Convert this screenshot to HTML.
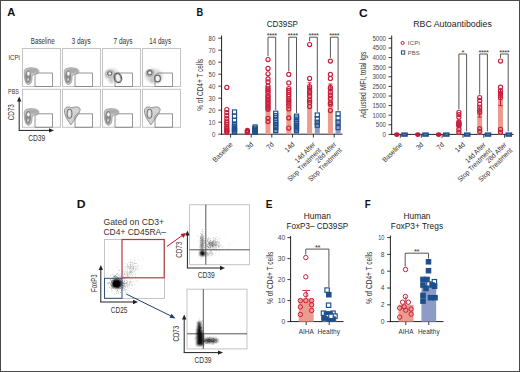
<!DOCTYPE html>
<html><head><meta charset="utf-8"><style>
html,body{margin:0;padding:0;background:#fff;overflow:hidden;}
svg{display:block;font-family:"Liberation Sans", sans-serif;}
</style></head><body>
<svg width="520" height="372" viewBox="0 0 520 372">
<defs>
<filter id="b1" x="-50%" y="-50%" width="200%" height="200%"><feGaussianBlur stdDeviation="1"/></filter>
<filter id="b08" x="-50%" y="-50%" width="200%" height="200%"><feGaussianBlur stdDeviation="0.8"/></filter>
<filter id="b05" x="-50%" y="-50%" width="200%" height="200%"><feGaussianBlur stdDeviation="0.5"/></filter>
</defs>
<rect x="0" y="0" width="520" height="372" fill="#fff"/>
<rect x="0.5" y="0.5" width="519" height="371" fill="none" stroke="#4a4a4a" stroke-width="1"/>
<text x="7.2" y="16.4" font-size="11.2" text-anchor="start" font-weight="bold" fill="#111" textLength="8.0" lengthAdjust="spacingAndGlyphs">A</text>
<text x="30.8" y="44.3" font-size="8.3" text-anchor="start" font-weight="normal" fill="#333" textLength="23.8" lengthAdjust="spacingAndGlyphs">Baseline</text>
<text x="71.5" y="44.3" font-size="8.3" text-anchor="start" font-weight="normal" fill="#333" textLength="19.3" lengthAdjust="spacingAndGlyphs">3 days</text>
<text x="113.5" y="44.3" font-size="8.3" text-anchor="start" font-weight="normal" fill="#333" textLength="19.1" lengthAdjust="spacingAndGlyphs">7 days</text>
<text x="149.2" y="44.3" font-size="8.3" text-anchor="start" font-weight="normal" fill="#333" textLength="21.9" lengthAdjust="spacingAndGlyphs">14 days</text>
<text x="8.4" y="60.1" font-size="7.8" text-anchor="start" font-weight="normal" fill="#333" textLength="11.5" lengthAdjust="spacingAndGlyphs">ICPi</text>
<text x="8.1" y="93.7" font-size="7.6" text-anchor="start" font-weight="normal" fill="#333" textLength="10.8" lengthAdjust="spacingAndGlyphs">PBS</text>
<rect x="22.5" y="48.5" width="38" height="38" stroke="#c4c4c4" stroke-width="1" fill="none"/>
<path d="M24.3,71.5 C24.3,68.3 28.5,67.7 32.5,67.9 C36.5,68.1 39.5,69.5 38.7,72.1 C37.5,74.1 34.0,73.7 32.1,76.0 C31.9,79.5 32.1,84.0 28.5,84.5 C25.5,84.5 24.3,79.5 24.3,71.5 Z" fill="#c2c2c2" stroke="#a0a0a0" stroke-width="0.9" filter="url(#b05)"/><ellipse cx="33.0" cy="70.8" rx="4.8" ry="2" fill="#ababab" filter="url(#b05)"/><ellipse cx="28.1" cy="76.5" rx="2.9" ry="6.6" fill="#8a8a8a" filter="url(#b05)"/><ellipse cx="28.4" cy="73.7" rx="1.3" ry="2.1" fill="#fafafa" filter="url(#b05)"/><ellipse cx="28.1" cy="79.5" rx="0.9" ry="1.8" fill="#d0d0d0" filter="url(#b05)"/>
<polygon points="35.0,86.5 35.0,75.5 37.5,73.0 52.5,73.0 52.5,86.5" fill="none" stroke="#7a7a7a" stroke-width="0.8"/>
<rect x="62.5" y="48.5" width="38" height="38" stroke="#c4c4c4" stroke-width="1" fill="none"/>
<path d="M64.3,71.5 C64.3,68.3 68.5,67.7 72.5,67.9 C76.5,68.1 79.5,69.5 78.7,72.1 C77.5,74.1 74.0,73.7 72.1,76.0 C71.9,79.5 72.1,84.0 68.5,84.5 C65.5,84.5 64.3,79.5 64.3,71.5 Z" fill="#c2c2c2" stroke="#a0a0a0" stroke-width="0.9" filter="url(#b05)"/><ellipse cx="73.0" cy="70.8" rx="4.8" ry="2" fill="#ababab" filter="url(#b05)"/><ellipse cx="68.1" cy="76.5" rx="2.9" ry="6.6" fill="#8a8a8a" filter="url(#b05)"/><ellipse cx="68.4" cy="73.7" rx="1.3" ry="2.1" fill="#fafafa" filter="url(#b05)"/><ellipse cx="68.1" cy="79.5" rx="0.9" ry="1.8" fill="#d0d0d0" filter="url(#b05)"/>
<polygon points="75.0,86.5 75.0,75.5 77.5,73.0 92.5,73.0 92.5,86.5" fill="none" stroke="#7a7a7a" stroke-width="0.8"/>
<rect x="102.5" y="48.5" width="38" height="38" stroke="#c4c4c4" stroke-width="1" fill="none"/>
<ellipse cx="111.5" cy="74.5" rx="8" ry="6.5" fill="#e2e2e2" filter="url(#b1)"/><ellipse cx="110.0" cy="74.0" rx="4.2" ry="3.8" fill="#cfcfcf" stroke="#a8a8a8" stroke-width="0.9" filter="url(#b05)"/><ellipse cx="109.8" cy="73.5" rx="2.1" ry="1.8" fill="#f4f4f4" stroke="#666" stroke-width="1.1" filter="url(#b05)"/><ellipse cx="111.5" cy="80.0" rx="2.2" ry="3.5" fill="#c8c8c8" filter="url(#b1)"/><ellipse cx="117.9" cy="77.9" rx="3.4" ry="4.6" fill="#eeeeee" stroke="#333" stroke-width="1.4" transform="rotate(-15 117.9 77.9)" filter="url(#b05)"/>
<polygon points="115.0,86.5 115.0,75.5 117.5,73.0 132.5,73.0 132.5,86.5" fill="none" stroke="#7a7a7a" stroke-width="0.8"/>
<rect x="142.5" y="48.5" width="38" height="38" stroke="#c4c4c4" stroke-width="1" fill="none"/>
<ellipse cx="153.5" cy="75.5" rx="9" ry="7" fill="#dcdcdc" filter="url(#b1)"/><ellipse cx="150.0" cy="73.0" rx="4" ry="3.6" fill="#c9c9c9" stroke="#a0a0a0" stroke-width="0.9" filter="url(#b05)"/><ellipse cx="152.5" cy="79.5" rx="2.2" ry="3.5" fill="#bdbdbd" filter="url(#b1)"/><ellipse cx="149.8" cy="72.7" rx="2.2" ry="2.1" fill="#f4f4f4" stroke="#6a6a6a" stroke-width="1.2" filter="url(#b05)"/><ellipse cx="157.5" cy="78.5" rx="4.4" ry="4.8" fill="#cfcfcf" filter="url(#b1)"/><ellipse cx="157.5" cy="78.5" rx="2.9" ry="3.4" fill="#f0f0f0" stroke="#6a6a6a" stroke-width="1.3" filter="url(#b05)"/>
<polygon points="155.0,86.5 155.0,75.5 157.5,73.0 172.5,73.0 172.5,86.5" fill="none" stroke="#7a7a7a" stroke-width="0.8"/>
<rect x="22.5" y="89.3" width="38" height="38" stroke="#c4c4c4" stroke-width="1" fill="none"/>
<path d="M24.3,112.3 C24.3,109.1 28.5,108.5 32.5,108.69999999999999 C36.5,108.9 39.5,110.3 38.7,112.9 C37.5,114.9 34.0,114.5 32.1,116.8 C31.9,120.3 32.1,124.8 28.5,125.3 C25.5,125.3 24.3,120.3 24.3,112.3 Z" fill="#c2c2c2" stroke="#a0a0a0" stroke-width="0.9" filter="url(#b05)"/><ellipse cx="33.0" cy="111.6" rx="4.8" ry="2" fill="#ababab" filter="url(#b05)"/><ellipse cx="28.1" cy="117.3" rx="2.9" ry="6.6" fill="#8a8a8a" filter="url(#b05)"/><ellipse cx="28.4" cy="114.5" rx="1.3" ry="2.1" fill="#fafafa" filter="url(#b05)"/><ellipse cx="28.1" cy="120.3" rx="0.9" ry="1.8" fill="#d0d0d0" filter="url(#b05)"/>
<polygon points="35.0,127.3 35.0,116.3 37.5,113.8 52.5,113.8 52.5,127.3" fill="none" stroke="#7a7a7a" stroke-width="0.8"/>
<rect x="62.5" y="89.3" width="38" height="38" stroke="#c4c4c4" stroke-width="1" fill="none"/>
<path d="M64.5,110.8 C64.5,106.8 68.5,106.3 72.0,107.8 C75.5,106.3 81.0,106.8 80.0,110.3 C79.0,114.3 74.5,119.3 71.0,124.8 C67.5,120.3 64.5,115.3 64.5,110.8 Z" fill="#d2d2d2" stroke="#8e8e8e" stroke-width="1" filter="url(#b05)"/><ellipse cx="69.5" cy="113.8" rx="2.4" ry="4.5" fill="none" stroke="#7a7a7a" stroke-width="1.1" filter="url(#b05)"/><ellipse cx="69.5" cy="113.3" rx="1.2" ry="3" fill="#ececec" filter="url(#b05)"/><ellipse cx="75.0" cy="110.3" rx="2.5" ry="1.6" fill="#d4d4d4" filter="url(#b05)"/>
<polygon points="75.0,127.3 75.0,116.3 77.5,113.8 92.5,113.8 92.5,127.3" fill="none" stroke="#7a7a7a" stroke-width="0.8"/>
<rect x="102.5" y="89.3" width="38" height="38" stroke="#c4c4c4" stroke-width="1" fill="none"/>
<path d="M104.3,112.3 C104.3,109.1 108.5,108.5 112.5,108.69999999999999 C116.5,108.9 119.5,110.3 118.7,112.9 C117.5,114.9 114.0,114.5 112.1,116.8 C111.9,120.3 112.1,124.8 108.5,125.3 C105.5,125.3 104.3,120.3 104.3,112.3 Z" fill="#c2c2c2" stroke="#a0a0a0" stroke-width="0.9" filter="url(#b05)"/><ellipse cx="113.0" cy="111.6" rx="4.8" ry="2" fill="#ababab" filter="url(#b05)"/><ellipse cx="108.1" cy="117.3" rx="2.9" ry="6.6" fill="#8a8a8a" filter="url(#b05)"/><ellipse cx="108.4" cy="114.5" rx="1.3" ry="2.1" fill="#fafafa" filter="url(#b05)"/><ellipse cx="108.1" cy="120.3" rx="0.9" ry="1.8" fill="#d0d0d0" filter="url(#b05)"/>
<polygon points="115.0,127.3 115.0,116.3 117.5,113.8 132.5,113.8 132.5,127.3" fill="none" stroke="#7a7a7a" stroke-width="0.8"/>
<rect x="142.5" y="89.3" width="38" height="38" stroke="#c4c4c4" stroke-width="1" fill="none"/>
<path d="M144.5,110.8 C144.5,106.8 148.5,106.3 152.0,107.8 C155.5,106.3 161.0,106.8 160.0,110.3 C159.0,114.3 154.5,119.3 151.0,124.8 C147.5,120.3 144.5,115.3 144.5,110.8 Z" fill="#d2d2d2" stroke="#8e8e8e" stroke-width="1" filter="url(#b05)"/><ellipse cx="149.5" cy="113.8" rx="2.4" ry="4.5" fill="none" stroke="#7a7a7a" stroke-width="1.1" filter="url(#b05)"/><ellipse cx="149.5" cy="113.3" rx="1.2" ry="3" fill="#ececec" filter="url(#b05)"/><ellipse cx="155.0" cy="110.3" rx="2.5" ry="1.6" fill="#d4d4d4" filter="url(#b05)"/>
<polygon points="155.0,127.3 155.0,116.3 157.5,113.8 172.5,113.8 172.5,127.3" fill="none" stroke="#7a7a7a" stroke-width="0.8"/>
<line x1="19.2" y1="130.4" x2="19.2" y2="100.5" stroke="#222" stroke-width="1"/>
<polygon points="19.2,96.5 17.0,101.5 21.4,101.5" fill="#222"/>
<line x1="18.7" y1="130.4" x2="50" y2="130.4" stroke="#222" stroke-width="1"/>
<polygon points="54,130.4 49,128.20000000000002 49,132.6" fill="#222"/>
<text x="14.1" y="120.3" font-size="8.8" text-anchor="start" font-weight="normal" fill="#333" textLength="16.1" lengthAdjust="spacingAndGlyphs" transform="rotate(-90 14.1 120.3)">CD73</text>
<text x="28.2" y="140.7" font-size="8.8" text-anchor="start" font-weight="normal" fill="#333" textLength="17.1" lengthAdjust="spacingAndGlyphs">CD39</text>
<text x="196.5" y="16.1" font-size="10.5" text-anchor="start" font-weight="bold" fill="#111" textLength="6.7" lengthAdjust="spacingAndGlyphs">B</text>
<text x="266.7" y="27" font-size="9" text-anchor="start" font-weight="normal" fill="#222" textLength="31.3" lengthAdjust="spacingAndGlyphs">CD39SP</text>
<line x1="221.6" y1="35.5" x2="221.6" y2="134.7" stroke="#222" stroke-width="1"/>
<line x1="218.4" y1="134.2" x2="221.6" y2="134.2" stroke="#222" stroke-width="0.9"/>
<text x="215.4" y="136.5" font-size="6.6" text-anchor="end" font-weight="normal" fill="#444" textLength="3.39" lengthAdjust="spacingAndGlyphs">0</text>
<line x1="218.4" y1="122.19999999999999" x2="221.6" y2="122.19999999999999" stroke="#222" stroke-width="0.9"/>
<text x="215.4" y="124.49999999999999" font-size="6.6" text-anchor="end" font-weight="normal" fill="#444" textLength="6.78" lengthAdjust="spacingAndGlyphs">10</text>
<line x1="218.4" y1="110.19999999999999" x2="221.6" y2="110.19999999999999" stroke="#222" stroke-width="0.9"/>
<text x="215.4" y="112.49999999999999" font-size="6.6" text-anchor="end" font-weight="normal" fill="#444" textLength="6.78" lengthAdjust="spacingAndGlyphs">20</text>
<line x1="218.4" y1="98.19999999999999" x2="221.6" y2="98.19999999999999" stroke="#222" stroke-width="0.9"/>
<text x="215.4" y="100.49999999999999" font-size="6.6" text-anchor="end" font-weight="normal" fill="#444" textLength="6.78" lengthAdjust="spacingAndGlyphs">30</text>
<line x1="218.4" y1="86.19999999999999" x2="221.6" y2="86.19999999999999" stroke="#222" stroke-width="0.9"/>
<text x="215.4" y="88.49999999999999" font-size="6.6" text-anchor="end" font-weight="normal" fill="#444" textLength="6.78" lengthAdjust="spacingAndGlyphs">40</text>
<line x1="218.4" y1="74.19999999999999" x2="221.6" y2="74.19999999999999" stroke="#222" stroke-width="0.9"/>
<text x="215.4" y="76.49999999999999" font-size="6.6" text-anchor="end" font-weight="normal" fill="#444" textLength="6.78" lengthAdjust="spacingAndGlyphs">50</text>
<line x1="218.4" y1="62.19999999999999" x2="221.6" y2="62.19999999999999" stroke="#222" stroke-width="0.9"/>
<text x="215.4" y="64.49999999999999" font-size="6.6" text-anchor="end" font-weight="normal" fill="#444" textLength="6.78" lengthAdjust="spacingAndGlyphs">60</text>
<line x1="218.4" y1="50.19999999999999" x2="221.6" y2="50.19999999999999" stroke="#222" stroke-width="0.9"/>
<text x="215.4" y="52.499999999999986" font-size="6.6" text-anchor="end" font-weight="normal" fill="#444" textLength="6.78" lengthAdjust="spacingAndGlyphs">70</text>
<line x1="218.4" y1="38.19999999999999" x2="221.6" y2="38.19999999999999" stroke="#222" stroke-width="0.9"/>
<text x="215.4" y="40.499999999999986" font-size="6.6" text-anchor="end" font-weight="normal" fill="#444" textLength="6.78" lengthAdjust="spacingAndGlyphs">80</text>
<line x1="221.1" y1="134.2" x2="342.5" y2="134.2" stroke="#222" stroke-width="1"/>
<text x="203" y="110.8" font-size="8.4" text-anchor="start" font-weight="normal" fill="#333" textLength="51.9" lengthAdjust="spacingAndGlyphs" transform="rotate(-90 203 110.8)">% of CD4+ T cells</text>
<line x1="230.6" y1="134.2" x2="230.6" y2="137.6" stroke="#222" stroke-width="0.9"/>
<line x1="251.2" y1="134.2" x2="251.2" y2="137.6" stroke="#222" stroke-width="0.9"/>
<line x1="271.8" y1="134.2" x2="271.8" y2="137.6" stroke="#222" stroke-width="0.9"/>
<line x1="292.6" y1="134.2" x2="292.6" y2="137.6" stroke="#222" stroke-width="0.9"/>
<line x1="313.4" y1="134.2" x2="313.4" y2="137.6" stroke="#222" stroke-width="0.9"/>
<line x1="334.2" y1="134.2" x2="334.2" y2="137.6" stroke="#222" stroke-width="0.9"/>
<rect x="224.29999999999998" y="125.79999999999998" width="5" height="8.400000000000006" fill="#ec9c8e"/>
<rect x="232.0" y="122.79999999999998" width="5" height="11.400000000000006" fill="#8d9cc6"/>
<rect x="244.89999999999998" y="131.2" width="5" height="3.0" fill="#ec9c8e"/>
<rect x="252.6" y="129.39999999999998" width="5" height="4.800000000000011" fill="#8d9cc6"/>
<rect x="265.5" y="94.6" width="5" height="39.599999999999994" fill="#ec9c8e"/>
<rect x="273.2" y="121.6" width="5" height="12.599999999999994" fill="#8d9cc6"/>
<rect x="286.3" y="98.19999999999999" width="5" height="36.0" fill="#ec9c8e"/>
<rect x="294.0" y="122.79999999999998" width="5" height="11.400000000000006" fill="#8d9cc6"/>
<rect x="307.09999999999997" y="90.39999999999999" width="5" height="43.8" fill="#ec9c8e"/>
<rect x="314.79999999999995" y="120.99999999999999" width="5" height="13.200000000000003" fill="#8d9cc6"/>
<line x1="309.59999999999997" y1="90.39999999999999" x2="309.59999999999997" y2="82.84" stroke="#c81e3c" stroke-width="1"/>
<line x1="307.59999999999997" y1="82.84" x2="311.59999999999997" y2="82.84" stroke="#c81e3c" stroke-width="1"/>
<rect x="327.9" y="91.6" width="5" height="42.599999999999994" fill="#ec9c8e"/>
<rect x="335.59999999999997" y="120.39999999999999" width="5" height="13.799999999999997" fill="#8d9cc6"/>
<line x1="330.4" y1="91.6" x2="330.4" y2="84.03999999999999" stroke="#c81e3c" stroke-width="1"/>
<line x1="328.4" y1="84.03999999999999" x2="332.4" y2="84.03999999999999" stroke="#c81e3c" stroke-width="1"/>
<circle cx="226.80" cy="87.40" r="2.05" stroke="#c81e3c" stroke-width="1.15" fill="#fff" fill-opacity="0.0"/>
<circle cx="226.80" cy="109.60" r="2.05" stroke="#c81e3c" stroke-width="1.15" fill="#fff" fill-opacity="0.0"/>
<circle cx="226.80" cy="112.60" r="2.05" stroke="#c81e3c" stroke-width="1.15" fill="#fff" fill-opacity="0.0"/>
<circle cx="226.80" cy="115.60" r="2.05" stroke="#c81e3c" stroke-width="1.15" fill="#fff" fill-opacity="0.0"/>
<circle cx="226.80" cy="118.60" r="2.05" stroke="#c81e3c" stroke-width="1.15" fill="#fff" fill-opacity="0.0"/>
<circle cx="226.80" cy="121.00" r="2.05" stroke="#c81e3c" stroke-width="1.15" fill="#fff" fill-opacity="0.0"/>
<circle cx="226.80" cy="122.80" r="2.05" stroke="#c81e3c" stroke-width="1.15" fill="#fff" fill-opacity="0.0"/>
<circle cx="226.80" cy="124.60" r="2.05" stroke="#c81e3c" stroke-width="1.15" fill="#fff" fill-opacity="0.0"/>
<circle cx="226.80" cy="127.00" r="2.05" stroke="#c81e3c" stroke-width="1.15" fill="#fff" fill-opacity="0.0"/>
<circle cx="226.80" cy="128.80" r="2.05" stroke="#c81e3c" stroke-width="1.15" fill="#fff" fill-opacity="0.0"/>
<circle cx="226.80" cy="130.00" r="2.05" stroke="#c81e3c" stroke-width="1.15" fill="#fff" fill-opacity="0.0"/>
<circle cx="226.80" cy="131.20" r="2.05" stroke="#c81e3c" stroke-width="1.15" fill="#fff" fill-opacity="0.0"/>
<circle cx="226.80" cy="132.04" r="2.05" stroke="#c81e3c" stroke-width="1.15" fill="#fff" fill-opacity="0.0"/>
<rect x="232.45" y="109.95" width="4.1" height="4.1" stroke="#1e4f8c" stroke-width="1.15" fill="#fff" fill-opacity="0.0"/>
<rect x="232.45" y="114.15" width="4.1" height="4.1" stroke="#1e4f8c" stroke-width="1.15" fill="#fff" fill-opacity="0.0"/>
<rect x="232.45" y="118.35" width="4.1" height="4.1" stroke="#1e4f8c" stroke-width="1.15" fill="#fff" fill-opacity="0.0"/>
<rect x="232.45" y="121.95" width="4.1" height="4.1" stroke="#1e4f8c" stroke-width="1.15" fill="#fff" fill-opacity="0.0"/>
<rect x="232.45" y="124.35" width="4.1" height="4.1" stroke="#1e4f8c" stroke-width="1.15" fill="#fff" fill-opacity="0.0"/>
<rect x="232.45" y="126.15" width="4.1" height="4.1" stroke="#1e4f8c" stroke-width="1.15" fill="#fff" fill-opacity="0.0"/>
<rect x="232.45" y="127.59" width="4.1" height="4.1" stroke="#1e4f8c" stroke-width="1.15" fill="#fff" fill-opacity="0.0"/>
<rect x="232.45" y="129.03" width="4.1" height="4.1" stroke="#1e4f8c" stroke-width="1.15" fill="#fff" fill-opacity="0.0"/>
<rect x="232.45" y="129.99" width="4.1" height="4.1" stroke="#1e4f8c" stroke-width="1.15" fill="#fff" fill-opacity="0.0"/>
<circle cx="247.40" cy="130.36" r="2.05" stroke="#c81e3c" stroke-width="1.15" fill="#fff" fill-opacity="0.0"/>
<circle cx="247.40" cy="131.20" r="2.05" stroke="#c81e3c" stroke-width="1.15" fill="#fff" fill-opacity="0.0"/>
<circle cx="247.40" cy="131.92" r="2.05" stroke="#c81e3c" stroke-width="1.15" fill="#fff" fill-opacity="0.0"/>
<circle cx="247.40" cy="132.40" r="2.05" stroke="#c81e3c" stroke-width="1.15" fill="#fff" fill-opacity="0.0"/>
<rect x="253.05" y="124.95" width="4.1" height="4.1" stroke="#1e4f8c" stroke-width="1.15" fill="#fff" fill-opacity="0.0"/>
<rect x="253.05" y="126.15" width="4.1" height="4.1" stroke="#1e4f8c" stroke-width="1.15" fill="#fff" fill-opacity="0.0"/>
<rect x="253.05" y="127.35" width="4.1" height="4.1" stroke="#1e4f8c" stroke-width="1.15" fill="#fff" fill-opacity="0.0"/>
<rect x="253.05" y="128.55" width="4.1" height="4.1" stroke="#1e4f8c" stroke-width="1.15" fill="#fff" fill-opacity="0.0"/>
<rect x="253.05" y="129.51" width="4.1" height="4.1" stroke="#1e4f8c" stroke-width="1.15" fill="#fff" fill-opacity="0.0"/>
<rect x="253.05" y="130.23" width="4.1" height="4.1" stroke="#1e4f8c" stroke-width="1.15" fill="#fff" fill-opacity="0.0"/>
<circle cx="268.00" cy="59.50" r="2.05" stroke="#c81e3c" stroke-width="1.15" fill="#fff" fill-opacity="0.0"/>
<circle cx="268.00" cy="68.44" r="2.05" stroke="#c81e3c" stroke-width="1.15" fill="#fff" fill-opacity="0.0"/>
<circle cx="268.00" cy="73.84" r="2.05" stroke="#c81e3c" stroke-width="1.15" fill="#fff" fill-opacity="0.0"/>
<circle cx="268.00" cy="78.88" r="2.05" stroke="#c81e3c" stroke-width="1.15" fill="#fff" fill-opacity="0.0"/>
<circle cx="268.00" cy="81.88" r="2.05" stroke="#c81e3c" stroke-width="1.15" fill="#fff" fill-opacity="0.0"/>
<circle cx="268.00" cy="86.20" r="2.05" stroke="#c81e3c" stroke-width="1.15" fill="#fff" fill-opacity="0.0"/>
<circle cx="268.00" cy="88.30" r="2.05" stroke="#c81e3c" stroke-width="1.15" fill="#fff" fill-opacity="0.0"/>
<circle cx="268.00" cy="91.30" r="2.05" stroke="#c81e3c" stroke-width="1.15" fill="#fff" fill-opacity="0.0"/>
<circle cx="268.00" cy="93.16" r="2.05" stroke="#c81e3c" stroke-width="1.15" fill="#fff" fill-opacity="0.0"/>
<circle cx="268.00" cy="95.80" r="2.05" stroke="#c81e3c" stroke-width="1.15" fill="#fff" fill-opacity="0.0"/>
<circle cx="268.00" cy="99.04" r="2.05" stroke="#c81e3c" stroke-width="1.15" fill="#fff" fill-opacity="0.0"/>
<circle cx="268.00" cy="102.28" r="2.05" stroke="#c81e3c" stroke-width="1.15" fill="#fff" fill-opacity="0.0"/>
<circle cx="268.00" cy="106.12" r="2.05" stroke="#c81e3c" stroke-width="1.15" fill="#fff" fill-opacity="0.0"/>
<circle cx="268.00" cy="109.36" r="2.05" stroke="#c81e3c" stroke-width="1.15" fill="#fff" fill-opacity="0.0"/>
<circle cx="268.00" cy="118.36" r="2.05" stroke="#c81e3c" stroke-width="1.15" fill="#fff" fill-opacity="0.0"/>
<circle cx="268.00" cy="121.60" r="2.05" stroke="#c81e3c" stroke-width="1.15" fill="#fff" fill-opacity="0.0"/>
<circle cx="268.00" cy="89.80" r="2.05" stroke="#c81e3c" stroke-width="1.15" fill="#fff" fill-opacity="0.0"/>
<circle cx="268.00" cy="97.00" r="2.05" stroke="#c81e3c" stroke-width="1.15" fill="#fff" fill-opacity="0.0"/>
<circle cx="268.00" cy="100.60" r="2.05" stroke="#c81e3c" stroke-width="1.15" fill="#fff" fill-opacity="0.0"/>
<circle cx="268.00" cy="104.20" r="2.05" stroke="#c81e3c" stroke-width="1.15" fill="#fff" fill-opacity="0.0"/>
<circle cx="268.00" cy="107.80" r="2.05" stroke="#c81e3c" stroke-width="1.15" fill="#fff" fill-opacity="0.0"/>
<rect x="273.65" y="111.15" width="4.1" height="4.1" stroke="#1e4f8c" stroke-width="1.15" fill="#fff" fill-opacity="0.0"/>
<rect x="273.65" y="113.55" width="4.1" height="4.1" stroke="#1e4f8c" stroke-width="1.15" fill="#fff" fill-opacity="0.0"/>
<rect x="273.65" y="115.95" width="4.1" height="4.1" stroke="#1e4f8c" stroke-width="1.15" fill="#fff" fill-opacity="0.0"/>
<rect x="273.65" y="118.35" width="4.1" height="4.1" stroke="#1e4f8c" stroke-width="1.15" fill="#fff" fill-opacity="0.0"/>
<rect x="273.65" y="120.75" width="4.1" height="4.1" stroke="#1e4f8c" stroke-width="1.15" fill="#fff" fill-opacity="0.0"/>
<rect x="273.65" y="123.15" width="4.1" height="4.1" stroke="#1e4f8c" stroke-width="1.15" fill="#fff" fill-opacity="0.0"/>
<rect x="273.65" y="125.55" width="4.1" height="4.1" stroke="#1e4f8c" stroke-width="1.15" fill="#fff" fill-opacity="0.0"/>
<rect x="273.65" y="128.55" width="4.1" height="4.1" stroke="#1e4f8c" stroke-width="1.15" fill="#fff" fill-opacity="0.0"/>
<circle cx="288.80" cy="74.44" r="2.05" stroke="#c81e3c" stroke-width="1.15" fill="#fff" fill-opacity="0.0"/>
<circle cx="288.80" cy="82.96" r="2.05" stroke="#c81e3c" stroke-width="1.15" fill="#fff" fill-opacity="0.0"/>
<circle cx="288.80" cy="88.60" r="2.05" stroke="#c81e3c" stroke-width="1.15" fill="#fff" fill-opacity="0.0"/>
<circle cx="288.80" cy="90.40" r="2.05" stroke="#c81e3c" stroke-width="1.15" fill="#fff" fill-opacity="0.0"/>
<circle cx="288.80" cy="92.20" r="2.05" stroke="#c81e3c" stroke-width="1.15" fill="#fff" fill-opacity="0.0"/>
<circle cx="288.80" cy="94.60" r="2.05" stroke="#c81e3c" stroke-width="1.15" fill="#fff" fill-opacity="0.0"/>
<circle cx="288.80" cy="96.16" r="2.05" stroke="#c81e3c" stroke-width="1.15" fill="#fff" fill-opacity="0.0"/>
<circle cx="288.80" cy="98.80" r="2.05" stroke="#c81e3c" stroke-width="1.15" fill="#fff" fill-opacity="0.0"/>
<circle cx="288.80" cy="100.96" r="2.05" stroke="#c81e3c" stroke-width="1.15" fill="#fff" fill-opacity="0.0"/>
<circle cx="288.80" cy="103.36" r="2.05" stroke="#c81e3c" stroke-width="1.15" fill="#fff" fill-opacity="0.0"/>
<circle cx="288.80" cy="105.76" r="2.05" stroke="#c81e3c" stroke-width="1.15" fill="#fff" fill-opacity="0.0"/>
<circle cx="288.80" cy="109.00" r="2.05" stroke="#c81e3c" stroke-width="1.15" fill="#fff" fill-opacity="0.0"/>
<circle cx="288.80" cy="117.88" r="2.05" stroke="#c81e3c" stroke-width="1.15" fill="#fff" fill-opacity="0.0"/>
<circle cx="288.80" cy="128.08" r="2.05" stroke="#c81e3c" stroke-width="1.15" fill="#fff" fill-opacity="0.0"/>
<rect x="294.45" y="114.15" width="4.1" height="4.1" stroke="#1e4f8c" stroke-width="1.15" fill="#fff" fill-opacity="0.0"/>
<rect x="294.45" y="115.95" width="4.1" height="4.1" stroke="#1e4f8c" stroke-width="1.15" fill="#fff" fill-opacity="0.0"/>
<rect x="294.45" y="117.75" width="4.1" height="4.1" stroke="#1e4f8c" stroke-width="1.15" fill="#fff" fill-opacity="0.0"/>
<rect x="294.45" y="119.55" width="4.1" height="4.1" stroke="#1e4f8c" stroke-width="1.15" fill="#fff" fill-opacity="0.0"/>
<rect x="294.45" y="121.35" width="4.1" height="4.1" stroke="#1e4f8c" stroke-width="1.15" fill="#fff" fill-opacity="0.0"/>
<rect x="294.45" y="123.15" width="4.1" height="4.1" stroke="#1e4f8c" stroke-width="1.15" fill="#fff" fill-opacity="0.0"/>
<rect x="294.45" y="124.95" width="4.1" height="4.1" stroke="#1e4f8c" stroke-width="1.15" fill="#fff" fill-opacity="0.0"/>
<rect x="294.45" y="126.75" width="4.1" height="4.1" stroke="#1e4f8c" stroke-width="1.15" fill="#fff" fill-opacity="0.0"/>
<rect x="294.45" y="128.55" width="4.1" height="4.1" stroke="#1e4f8c" stroke-width="1.15" fill="#fff" fill-opacity="0.0"/>
<circle cx="309.60" cy="44.56" r="2.05" stroke="#c81e3c" stroke-width="1.15" fill="#fff" fill-opacity="0.0"/>
<circle cx="309.60" cy="78.40" r="2.05" stroke="#c81e3c" stroke-width="1.15" fill="#fff" fill-opacity="0.0"/>
<circle cx="309.60" cy="86.56" r="2.05" stroke="#c81e3c" stroke-width="1.15" fill="#fff" fill-opacity="0.0"/>
<circle cx="309.60" cy="88.00" r="2.05" stroke="#c81e3c" stroke-width="1.15" fill="#fff" fill-opacity="0.0"/>
<circle cx="309.60" cy="91.24" r="2.05" stroke="#c81e3c" stroke-width="1.15" fill="#fff" fill-opacity="0.0"/>
<circle cx="309.60" cy="92.92" r="2.05" stroke="#c81e3c" stroke-width="1.15" fill="#fff" fill-opacity="0.0"/>
<circle cx="309.60" cy="96.16" r="2.05" stroke="#c81e3c" stroke-width="1.15" fill="#fff" fill-opacity="0.0"/>
<circle cx="309.60" cy="100.24" r="2.05" stroke="#c81e3c" stroke-width="1.15" fill="#fff" fill-opacity="0.0"/>
<circle cx="309.60" cy="102.64" r="2.05" stroke="#c81e3c" stroke-width="1.15" fill="#fff" fill-opacity="0.0"/>
<circle cx="309.60" cy="106.60" r="2.05" stroke="#c81e3c" stroke-width="1.15" fill="#fff" fill-opacity="0.0"/>
<rect x="315.25" y="112.95" width="4.1" height="4.1" stroke="#1e4f8c" stroke-width="1.15" fill="#fff" fill-opacity="0.0"/>
<rect x="315.25" y="116.79" width="4.1" height="4.1" stroke="#1e4f8c" stroke-width="1.15" fill="#fff" fill-opacity="0.0"/>
<rect x="315.25" y="120.15" width="4.1" height="4.1" stroke="#1e4f8c" stroke-width="1.15" fill="#fff" fill-opacity="0.0"/>
<rect x="315.25" y="123.15" width="4.1" height="4.1" stroke="#1e4f8c" stroke-width="1.15" fill="#fff" fill-opacity="0.0"/>
<circle cx="330.40" cy="61.12" r="2.05" stroke="#c81e3c" stroke-width="1.15" fill="#fff" fill-opacity="0.0"/>
<circle cx="330.40" cy="74.44" r="2.05" stroke="#c81e3c" stroke-width="1.15" fill="#fff" fill-opacity="0.0"/>
<circle cx="330.40" cy="78.40" r="2.05" stroke="#c81e3c" stroke-width="1.15" fill="#fff" fill-opacity="0.0"/>
<circle cx="330.40" cy="87.40" r="2.05" stroke="#c81e3c" stroke-width="1.15" fill="#fff" fill-opacity="0.0"/>
<circle cx="330.40" cy="88.84" r="2.05" stroke="#c81e3c" stroke-width="1.15" fill="#fff" fill-opacity="0.0"/>
<circle cx="330.40" cy="92.20" r="2.05" stroke="#c81e3c" stroke-width="1.15" fill="#fff" fill-opacity="0.0"/>
<circle cx="330.40" cy="95.32" r="2.05" stroke="#c81e3c" stroke-width="1.15" fill="#fff" fill-opacity="0.0"/>
<circle cx="330.40" cy="98.56" r="2.05" stroke="#c81e3c" stroke-width="1.15" fill="#fff" fill-opacity="0.0"/>
<circle cx="330.40" cy="102.64" r="2.05" stroke="#c81e3c" stroke-width="1.15" fill="#fff" fill-opacity="0.0"/>
<circle cx="330.40" cy="104.20" r="2.05" stroke="#c81e3c" stroke-width="1.15" fill="#fff" fill-opacity="0.0"/>
<circle cx="330.40" cy="110.56" r="2.05" stroke="#c81e3c" stroke-width="1.15" fill="#fff" fill-opacity="0.0"/>
<rect x="336.05" y="111.75" width="4.1" height="4.1" stroke="#1e4f8c" stroke-width="1.15" fill="#fff" fill-opacity="0.0"/>
<rect x="336.05" y="115.95" width="4.1" height="4.1" stroke="#1e4f8c" stroke-width="1.15" fill="#fff" fill-opacity="0.0"/>
<rect x="336.05" y="120.15" width="4.1" height="4.1" stroke="#1e4f8c" stroke-width="1.15" fill="#fff" fill-opacity="0.0"/>
<rect x="336.05" y="125.55" width="4.1" height="4.1" stroke="#1e4f8c" stroke-width="1.15" fill="#fff" fill-opacity="0.0"/>
<polyline points="268.0,56.29999999999998 268.0,37.2 275.7,37.2 275.7,109.99999999999999" fill="none" stroke="#444" stroke-width="0.9"/>
<text x="271.85" y="37.6" font-size="7.4" text-anchor="middle" font-weight="normal" fill="#333" letter-spacing="-0.35">****</text>
<polyline points="288.8,71.24 288.8,37.2 296.5,37.2 296.5,112.99999999999999" fill="none" stroke="#444" stroke-width="0.9"/>
<text x="292.65" y="37.6" font-size="7.4" text-anchor="middle" font-weight="normal" fill="#333" letter-spacing="-0.35">****</text>
<polyline points="309.59999999999997,41.359999999999985 309.59999999999997,37.2 317.29999999999995,37.2 317.29999999999995,111.79999999999998" fill="none" stroke="#444" stroke-width="0.9"/>
<text x="313.44999999999993" y="37.6" font-size="7.4" text-anchor="middle" font-weight="normal" fill="#333" letter-spacing="-0.35">****</text>
<polyline points="330.4,57.91999999999999 330.4,37.2 338.09999999999997,37.2 338.09999999999997,110.59999999999998" fill="none" stroke="#444" stroke-width="0.9"/>
<text x="334.25" y="37.6" font-size="7.4" text-anchor="middle" font-weight="normal" fill="#333" letter-spacing="-0.35">****</text>
<text x="233.1" y="145.0" font-size="7.2" text-anchor="end" font-weight="normal" fill="#333" textLength="24.93" lengthAdjust="spacingAndGlyphs" transform="rotate(-45 233.1 145.0)">Baseline</text>
<text x="253.7" y="145.0" font-size="7.2" text-anchor="end" font-weight="normal" fill="#333" textLength="7.23" lengthAdjust="spacingAndGlyphs" transform="rotate(-45 253.7 145.0)">3d</text>
<text x="274.3" y="145.0" font-size="7.2" text-anchor="end" font-weight="normal" fill="#333" textLength="7.23" lengthAdjust="spacingAndGlyphs" transform="rotate(-45 274.3 145.0)">7d</text>
<text x="295.1" y="145.0" font-size="7.2" text-anchor="end" font-weight="normal" fill="#333" textLength="10.84" lengthAdjust="spacingAndGlyphs" transform="rotate(-45 295.1 145.0)">14d</text>
<text x="315.9" y="145.0" font-size="7.2" text-anchor="end" font-weight="normal" fill="#333" textLength="26.02" lengthAdjust="spacingAndGlyphs" transform="rotate(-45 315.9 145.0)">14d After</text>
<text x="321.56" y="150.66" font-size="7.2" text-anchor="end" font-weight="normal" fill="#333" textLength="44.44" lengthAdjust="spacingAndGlyphs" transform="rotate(-45 321.56 150.66)">Stop Treatment</text>
<text x="336.7" y="145.0" font-size="7.2" text-anchor="end" font-weight="normal" fill="#333" textLength="26.02" lengthAdjust="spacingAndGlyphs" transform="rotate(-45 336.7 145.0)">28d After</text>
<text x="342.36" y="150.66" font-size="7.2" text-anchor="end" font-weight="normal" fill="#333" textLength="44.44" lengthAdjust="spacingAndGlyphs" transform="rotate(-45 342.36 150.66)">Stop Treatment</text>
<text x="359.1" y="16.5" font-size="11.2" text-anchor="start" font-weight="bold" fill="#111" textLength="8.7" lengthAdjust="spacingAndGlyphs">C</text>
<text x="413.2" y="27" font-size="9.2" text-anchor="start" font-weight="normal" fill="#222" textLength="78.6" lengthAdjust="spacingAndGlyphs">RBC Autoantibodies</text>
<line x1="391.7" y1="35.5" x2="391.7" y2="134.9" stroke="#222" stroke-width="1"/>
<line x1="388.5" y1="134.4" x2="391.7" y2="134.4" stroke="#222" stroke-width="0.9"/>
<text x="386" y="136.70000000000002" font-size="6.6" text-anchor="end" font-weight="normal" fill="#444" textLength="3.39" lengthAdjust="spacingAndGlyphs">0</text>
<line x1="388.5" y1="124.80000000000001" x2="391.7" y2="124.80000000000001" stroke="#222" stroke-width="0.9"/>
<text x="386" y="127.10000000000001" font-size="6.6" text-anchor="end" font-weight="normal" fill="#444" textLength="10.18" lengthAdjust="spacingAndGlyphs">500</text>
<line x1="388.5" y1="115.2" x2="391.7" y2="115.2" stroke="#222" stroke-width="0.9"/>
<text x="386" y="117.5" font-size="6.6" text-anchor="end" font-weight="normal" fill="#444" textLength="13.57" lengthAdjust="spacingAndGlyphs">1000</text>
<line x1="388.5" y1="105.60000000000001" x2="391.7" y2="105.60000000000001" stroke="#222" stroke-width="0.9"/>
<text x="386" y="107.9" font-size="6.6" text-anchor="end" font-weight="normal" fill="#444" textLength="13.57" lengthAdjust="spacingAndGlyphs">1500</text>
<line x1="388.5" y1="96.0" x2="391.7" y2="96.0" stroke="#222" stroke-width="0.9"/>
<text x="386" y="98.3" font-size="6.6" text-anchor="end" font-weight="normal" fill="#444" textLength="13.57" lengthAdjust="spacingAndGlyphs">2000</text>
<line x1="388.5" y1="86.4" x2="391.7" y2="86.4" stroke="#222" stroke-width="0.9"/>
<text x="386" y="88.7" font-size="6.6" text-anchor="end" font-weight="normal" fill="#444" textLength="13.57" lengthAdjust="spacingAndGlyphs">2500</text>
<line x1="388.5" y1="76.80000000000001" x2="391.7" y2="76.80000000000001" stroke="#222" stroke-width="0.9"/>
<text x="386" y="79.10000000000001" font-size="6.6" text-anchor="end" font-weight="normal" fill="#444" textLength="13.57" lengthAdjust="spacingAndGlyphs">3000</text>
<line x1="388.5" y1="67.2" x2="391.7" y2="67.2" stroke="#222" stroke-width="0.9"/>
<text x="386" y="69.5" font-size="6.6" text-anchor="end" font-weight="normal" fill="#444" textLength="13.57" lengthAdjust="spacingAndGlyphs">3500</text>
<line x1="388.5" y1="57.60000000000001" x2="391.7" y2="57.60000000000001" stroke="#222" stroke-width="0.9"/>
<text x="386" y="59.900000000000006" font-size="6.6" text-anchor="end" font-weight="normal" fill="#444" textLength="13.57" lengthAdjust="spacingAndGlyphs">4000</text>
<line x1="388.5" y1="48.0" x2="391.7" y2="48.0" stroke="#222" stroke-width="0.9"/>
<text x="386" y="50.3" font-size="6.6" text-anchor="end" font-weight="normal" fill="#444" textLength="13.57" lengthAdjust="spacingAndGlyphs">4500</text>
<line x1="388.5" y1="38.400000000000006" x2="391.7" y2="38.400000000000006" stroke="#222" stroke-width="0.9"/>
<text x="386" y="40.7" font-size="6.6" text-anchor="end" font-weight="normal" fill="#444" textLength="13.57" lengthAdjust="spacingAndGlyphs">5000</text>
<line x1="391.2" y1="134.4" x2="513.5" y2="134.4" stroke="#222" stroke-width="1"/>
<text x="366.1" y="118.2" font-size="8.3" text-anchor="start" font-weight="normal" fill="#333" textLength="66.5" lengthAdjust="spacingAndGlyphs" transform="rotate(-90 366.1 118.2)">Adjusted MFI, total Igs</text>
<line x1="400.3" y1="134.4" x2="400.3" y2="137.8" stroke="#222" stroke-width="0.9"/>
<line x1="421.3" y1="134.4" x2="421.3" y2="137.8" stroke="#222" stroke-width="0.9"/>
<line x1="442.1" y1="134.4" x2="442.1" y2="137.8" stroke="#222" stroke-width="0.9"/>
<line x1="463.0" y1="134.4" x2="463.0" y2="137.8" stroke="#222" stroke-width="0.9"/>
<line x1="483.8" y1="134.4" x2="483.8" y2="137.8" stroke="#222" stroke-width="0.9"/>
<line x1="504.6" y1="134.4" x2="504.6" y2="137.8" stroke="#222" stroke-width="0.9"/>
<circle cx="402.60" cy="43.00" r="1.6" stroke="#c81e3c" stroke-width="1.0" fill="#fff"/>
<text x="407.8" y="44.8" font-size="6.0" text-anchor="start" font-weight="normal" fill="#555" textLength="12.1" lengthAdjust="spacingAndGlyphs">ICPi</text>
<rect x="401.45" y="50.85" width="3.3" height="3.3" stroke="#1e4f8c" stroke-width="1.0" fill="#fff"/>
<text x="407.8" y="54.6" font-size="6.0" text-anchor="start" font-weight="normal" fill="#555" textLength="11.8" lengthAdjust="spacingAndGlyphs">PBS</text>
<rect x="456.4" y="123.64800000000001" width="5" height="10.751999999999995" fill="#ec9c8e"/>
<rect x="477.2" y="112.32000000000001" width="5" height="22.08" fill="#ec9c8e"/>
<rect x="498.0" y="98.88" width="5" height="35.52000000000001" fill="#ec9c8e"/>
<ellipse cx="396.8" cy="134.6" rx="2.7" ry="2.3" fill="#c01a36"/>
<rect x="401.20000000000005" y="132.4" width="6.6" height="4.4" fill="#1e4f8c"/>
<rect x="402.90000000000003" y="133.70000000000002" width="3.2" height="1.6" fill="#4a74ad"/>
<ellipse cx="417.8" cy="134.6" rx="2.7" ry="2.3" fill="#c01a36"/>
<rect x="422.20000000000005" y="132.4" width="6.6" height="4.4" fill="#1e4f8c"/>
<rect x="423.90000000000003" y="133.70000000000002" width="3.2" height="1.6" fill="#4a74ad"/>
<ellipse cx="438.6" cy="134.6" rx="2.7" ry="2.3" fill="#c01a36"/>
<rect x="443.00000000000006" y="132.4" width="6.6" height="4.4" fill="#1e4f8c"/>
<rect x="444.70000000000005" y="133.70000000000002" width="3.2" height="1.6" fill="#4a74ad"/>
<circle cx="458.90" cy="112.30" r="2.05" stroke="#c81e3c" stroke-width="1.15" fill="#fff" fill-opacity="0.0"/>
<circle cx="458.90" cy="114.51" r="2.05" stroke="#c81e3c" stroke-width="1.15" fill="#fff" fill-opacity="0.0"/>
<circle cx="458.90" cy="117.20" r="2.05" stroke="#c81e3c" stroke-width="1.15" fill="#fff" fill-opacity="0.0"/>
<circle cx="458.90" cy="121.90" r="2.05" stroke="#c81e3c" stroke-width="1.15" fill="#fff" fill-opacity="0.0"/>
<circle cx="458.90" cy="122.88" r="2.05" stroke="#c81e3c" stroke-width="1.15" fill="#fff" fill-opacity="0.0"/>
<circle cx="458.90" cy="123.99" r="2.05" stroke="#c81e3c" stroke-width="1.15" fill="#fff" fill-opacity="0.0"/>
<circle cx="458.90" cy="124.80" r="2.05" stroke="#c81e3c" stroke-width="1.15" fill="#fff" fill-opacity="0.0"/>
<circle cx="458.90" cy="125.61" r="2.05" stroke="#c81e3c" stroke-width="1.15" fill="#fff" fill-opacity="0.0"/>
<circle cx="458.90" cy="129.29" r="2.05" stroke="#c81e3c" stroke-width="1.15" fill="#fff" fill-opacity="0.0"/>
<circle cx="458.90" cy="132.31" r="2.05" stroke="#c81e3c" stroke-width="1.15" fill="#fff" fill-opacity="0.0"/>
<rect x="463.90000000000003" y="132.4" width="6.6" height="4.4" fill="#1e4f8c"/>
<rect x="465.6" y="133.70000000000002" width="3.2" height="1.6" fill="#4a74ad"/>
<circle cx="479.70" cy="97.59" r="2.05" stroke="#c81e3c" stroke-width="1.15" fill="#fff" fill-opacity="0.0"/>
<circle cx="479.70" cy="100.49" r="2.05" stroke="#c81e3c" stroke-width="1.15" fill="#fff" fill-opacity="0.0"/>
<circle cx="479.70" cy="104.20" r="2.05" stroke="#c81e3c" stroke-width="1.15" fill="#fff" fill-opacity="0.0"/>
<circle cx="479.70" cy="107.19" r="2.05" stroke="#c81e3c" stroke-width="1.15" fill="#fff" fill-opacity="0.0"/>
<circle cx="479.70" cy="110.09" r="2.05" stroke="#c81e3c" stroke-width="1.15" fill="#fff" fill-opacity="0.0"/>
<circle cx="479.70" cy="112.30" r="2.05" stroke="#c81e3c" stroke-width="1.15" fill="#fff" fill-opacity="0.0"/>
<circle cx="479.70" cy="128.60" r="2.05" stroke="#c81e3c" stroke-width="1.15" fill="#fff" fill-opacity="0.0"/>
<circle cx="479.70" cy="131.50" r="2.05" stroke="#c81e3c" stroke-width="1.15" fill="#fff" fill-opacity="0.0"/>
<rect x="484.70000000000005" y="132.4" width="6.6" height="4.4" fill="#1e4f8c"/>
<rect x="486.40000000000003" y="133.70000000000002" width="3.2" height="1.6" fill="#4a74ad"/>
<circle cx="500.50" cy="61.00" r="2.05" stroke="#c81e3c" stroke-width="1.15" fill="#fff" fill-opacity="0.0"/>
<circle cx="500.50" cy="87.21" r="2.05" stroke="#c81e3c" stroke-width="1.15" fill="#fff" fill-opacity="0.0"/>
<circle cx="500.50" cy="90.89" r="2.05" stroke="#c81e3c" stroke-width="1.15" fill="#fff" fill-opacity="0.0"/>
<circle cx="500.50" cy="93.10" r="2.05" stroke="#c81e3c" stroke-width="1.15" fill="#fff" fill-opacity="0.0"/>
<circle cx="500.50" cy="95.31" r="2.05" stroke="#c81e3c" stroke-width="1.15" fill="#fff" fill-opacity="0.0"/>
<circle cx="500.50" cy="97.59" r="2.05" stroke="#c81e3c" stroke-width="1.15" fill="#fff" fill-opacity="0.0"/>
<circle cx="500.50" cy="129.29" r="2.05" stroke="#c81e3c" stroke-width="1.15" fill="#fff" fill-opacity="0.0"/>
<circle cx="500.50" cy="132.31" r="2.05" stroke="#c81e3c" stroke-width="1.15" fill="#fff" fill-opacity="0.0"/>
<rect x="505.50000000000006" y="132.4" width="6.6" height="4.4" fill="#1e4f8c"/>
<rect x="507.20000000000005" y="133.70000000000002" width="3.2" height="1.6" fill="#4a74ad"/>
<line x1="458.9" y1="127.104" x2="458.9" y2="119.808" stroke="#c81e3c" stroke-width="1"/>
<line x1="456.9" y1="127.104" x2="460.9" y2="127.104" stroke="#c81e3c" stroke-width="1"/>
<line x1="479.7" y1="117.12" x2="479.7" y2="106.56" stroke="#c81e3c" stroke-width="1"/>
<line x1="477.7" y1="117.12" x2="481.7" y2="117.12" stroke="#c81e3c" stroke-width="1"/>
<line x1="500.5" y1="105.60000000000001" x2="500.5" y2="88.32000000000001" stroke="#c81e3c" stroke-width="1"/>
<line x1="498.5" y1="105.60000000000001" x2="502.5" y2="105.60000000000001" stroke="#c81e3c" stroke-width="1"/>
<polyline points="458.9,109.1008 458.9,54 466.6,54 466.6,131.4" fill="none" stroke="#444" stroke-width="0.9"/>
<text x="462.75" y="54.5" font-size="7.4" text-anchor="middle" font-weight="normal" fill="#333" letter-spacing="-0.35">*</text>
<polyline points="479.7,94.3936 479.7,54 487.40000000000003,54 487.40000000000003,131.4" fill="none" stroke="#444" stroke-width="0.9"/>
<text x="483.55" y="54.5" font-size="7.4" text-anchor="middle" font-weight="normal" fill="#333" letter-spacing="-0.35">****</text>
<polyline points="500.5,57.7984 500.5,54 508.20000000000005,54 508.20000000000005,131.4" fill="none" stroke="#444" stroke-width="0.9"/>
<text x="504.35" y="54.5" font-size="7.4" text-anchor="middle" font-weight="normal" fill="#333" letter-spacing="-0.35">****</text>
<text x="402.8" y="145.2" font-size="7.2" text-anchor="end" font-weight="normal" fill="#333" textLength="24.93" lengthAdjust="spacingAndGlyphs" transform="rotate(-45 402.8 145.2)">Baseline</text>
<text x="423.8" y="145.2" font-size="7.2" text-anchor="end" font-weight="normal" fill="#333" textLength="7.23" lengthAdjust="spacingAndGlyphs" transform="rotate(-45 423.8 145.2)">3d</text>
<text x="444.6" y="145.2" font-size="7.2" text-anchor="end" font-weight="normal" fill="#333" textLength="7.23" lengthAdjust="spacingAndGlyphs" transform="rotate(-45 444.6 145.2)">7d</text>
<text x="465.5" y="145.2" font-size="7.2" text-anchor="end" font-weight="normal" fill="#333" textLength="10.84" lengthAdjust="spacingAndGlyphs" transform="rotate(-45 465.5 145.2)">14d</text>
<text x="486.3" y="145.2" font-size="7.2" text-anchor="end" font-weight="normal" fill="#333" textLength="26.02" lengthAdjust="spacingAndGlyphs" transform="rotate(-45 486.3 145.2)">14d After</text>
<text x="491.96" y="150.86" font-size="7.2" text-anchor="end" font-weight="normal" fill="#333" textLength="44.44" lengthAdjust="spacingAndGlyphs" transform="rotate(-45 491.96 150.86)">Stop Treatment</text>
<text x="507.1" y="145.2" font-size="7.2" text-anchor="end" font-weight="normal" fill="#333" textLength="26.02" lengthAdjust="spacingAndGlyphs" transform="rotate(-45 507.1 145.2)">28d After</text>
<text x="512.76" y="150.86" font-size="7.2" text-anchor="end" font-weight="normal" fill="#333" textLength="44.44" lengthAdjust="spacingAndGlyphs" transform="rotate(-45 512.76 150.86)">Stop Treatment</text>
<text x="76.7" y="208.3" font-size="11.2" text-anchor="start" font-weight="bold" fill="#111" textLength="8.8" lengthAdjust="spacingAndGlyphs">D</text>
<text x="103.5" y="224.8" font-size="9.6" text-anchor="start" font-weight="normal" fill="#333" textLength="60.7" lengthAdjust="spacingAndGlyphs">Gated on CD3+</text>
<text x="103.5" y="235.0" font-size="9.6" text-anchor="start" font-weight="normal" fill="#333" textLength="62.4" lengthAdjust="spacingAndGlyphs">CD4+ CD45RA–</text>
<rect x="104.5" y="239.5" width="60" height="59" stroke="#c4c4c4" stroke-width="1" fill="none"/>
<g fill="#111" fill-opacity="0.35"><circle cx="126.6" cy="274.8" r="0.32"/><circle cx="126.8" cy="271.4" r="0.32"/><circle cx="122.9" cy="273.9" r="0.32"/><circle cx="134.1" cy="270.4" r="0.32"/><circle cx="133.7" cy="269.9" r="0.32"/><circle cx="130.2" cy="271.6" r="0.32"/><circle cx="118.8" cy="280.4" r="0.32"/><circle cx="130.8" cy="272.5" r="0.32"/><circle cx="118.7" cy="270.1" r="0.32"/><circle cx="123.1" cy="272.8" r="0.32"/><circle cx="129.7" cy="270.9" r="0.32"/><circle cx="130.9" cy="267.9" r="0.32"/><circle cx="129.7" cy="272.7" r="0.32"/><circle cx="124.4" cy="280.9" r="0.32"/><circle cx="131.1" cy="275.1" r="0.32"/><circle cx="124.6" cy="270.9" r="0.32"/><circle cx="126.1" cy="272.6" r="0.32"/><circle cx="131.5" cy="271.1" r="0.32"/><circle cx="125.5" cy="269.5" r="0.32"/><circle cx="125.1" cy="278.4" r="0.32"/><circle cx="123.6" cy="275.4" r="0.32"/><circle cx="130.3" cy="264.8" r="0.32"/><circle cx="128.3" cy="277.1" r="0.32"/><circle cx="116.9" cy="276.8" r="0.32"/><circle cx="127.4" cy="269.0" r="0.32"/><circle cx="130.7" cy="270.3" r="0.32"/><circle cx="119.9" cy="279.7" r="0.32"/><circle cx="131.7" cy="273.8" r="0.32"/><circle cx="135.9" cy="269.1" r="0.32"/><circle cx="128.7" cy="266.4" r="0.32"/><circle cx="131.4" cy="267.7" r="0.32"/><circle cx="125.5" cy="268.3" r="0.32"/><circle cx="122.7" cy="272.8" r="0.32"/><circle cx="135.1" cy="260.0" r="0.32"/><circle cx="120.0" cy="277.3" r="0.32"/><circle cx="135.9" cy="270.0" r="0.32"/><circle cx="117.6" cy="267.6" r="0.32"/><circle cx="130.0" cy="268.0" r="0.32"/><circle cx="121.8" cy="279.3" r="0.32"/><circle cx="134.1" cy="269.3" r="0.32"/><circle cx="129.4" cy="273.0" r="0.32"/><circle cx="136.8" cy="269.7" r="0.32"/><circle cx="130.9" cy="272.6" r="0.32"/><circle cx="119.4" cy="281.8" r="0.32"/><circle cx="133.3" cy="271.3" r="0.32"/><circle cx="117.1" cy="275.4" r="0.32"/><circle cx="132.6" cy="262.2" r="0.32"/><circle cx="127.0" cy="276.6" r="0.32"/><circle cx="120.8" cy="282.4" r="0.32"/><circle cx="131.0" cy="269.7" r="0.32"/><circle cx="129.8" cy="273.6" r="0.32"/><circle cx="128.7" cy="276.2" r="0.32"/><circle cx="124.4" cy="272.3" r="0.32"/><circle cx="133.7" cy="269.0" r="0.32"/><circle cx="123.2" cy="278.4" r="0.32"/><circle cx="136.1" cy="265.8" r="0.32"/><circle cx="120.4" cy="275.6" r="0.32"/><circle cx="127.2" cy="271.3" r="0.32"/><circle cx="135.7" cy="263.7" r="0.32"/><circle cx="134.9" cy="263.1" r="0.32"/><circle cx="123.7" cy="276.9" r="0.32"/><circle cx="134.2" cy="272.0" r="0.32"/><circle cx="129.9" cy="271.5" r="0.32"/><circle cx="128.8" cy="273.8" r="0.32"/><circle cx="127.0" cy="273.6" r="0.32"/><circle cx="131.1" cy="270.3" r="0.32"/><circle cx="132.2" cy="272.0" r="0.32"/><circle cx="139.1" cy="267.3" r="0.32"/><circle cx="125.6" cy="271.8" r="0.32"/><circle cx="127.9" cy="275.7" r="0.32"/><circle cx="126.1" cy="274.6" r="0.32"/><circle cx="138.1" cy="256.2" r="0.32"/><circle cx="121.8" cy="276.3" r="0.32"/><circle cx="130.2" cy="271.8" r="0.32"/><circle cx="125.6" cy="275.9" r="0.32"/><circle cx="129.6" cy="269.1" r="0.32"/><circle cx="141.4" cy="266.1" r="0.32"/><circle cx="125.0" cy="273.3" r="0.32"/><circle cx="126.8" cy="272.4" r="0.32"/><circle cx="113.0" cy="278.2" r="0.32"/><circle cx="133.5" cy="264.3" r="0.32"/><circle cx="127.6" cy="276.0" r="0.32"/><circle cx="132.7" cy="275.4" r="0.32"/><circle cx="118.6" cy="275.7" r="0.32"/><circle cx="126.1" cy="275.5" r="0.32"/><circle cx="134.0" cy="258.0" r="0.32"/><circle cx="134.0" cy="262.9" r="0.32"/><circle cx="131.8" cy="264.0" r="0.32"/><circle cx="129.0" cy="276.3" r="0.32"/><circle cx="127.2" cy="273.2" r="0.32"/><circle cx="132.4" cy="270.2" r="0.32"/><circle cx="127.5" cy="278.4" r="0.32"/><circle cx="133.8" cy="267.7" r="0.32"/><circle cx="143.1" cy="259.2" r="0.32"/><circle cx="133.0" cy="268.2" r="0.32"/><circle cx="128.7" cy="274.4" r="0.32"/><circle cx="129.2" cy="273.9" r="0.32"/><circle cx="119.6" cy="270.5" r="0.32"/><circle cx="131.4" cy="266.3" r="0.32"/><circle cx="122.4" cy="269.2" r="0.32"/><circle cx="135.0" cy="271.2" r="0.32"/><circle cx="136.1" cy="263.8" r="0.32"/><circle cx="128.0" cy="267.4" r="0.32"/><circle cx="132.2" cy="276.1" r="0.32"/><circle cx="123.1" cy="280.9" r="0.32"/><circle cx="133.4" cy="268.3" r="0.32"/><circle cx="117.2" cy="283.5" r="0.32"/><circle cx="127.5" cy="269.9" r="0.32"/><circle cx="130.2" cy="272.4" r="0.32"/><circle cx="136.2" cy="263.4" r="0.32"/><circle cx="134.2" cy="274.5" r="0.32"/><circle cx="136.0" cy="266.9" r="0.32"/><circle cx="123.9" cy="278.3" r="0.32"/><circle cx="128.6" cy="272.2" r="0.32"/><circle cx="135.8" cy="266.7" r="0.32"/><circle cx="115.4" cy="277.3" r="0.32"/><circle cx="117.8" cy="280.8" r="0.32"/><circle cx="129.7" cy="268.6" r="0.32"/><circle cx="127.9" cy="275.4" r="0.32"/><circle cx="128.4" cy="277.1" r="0.32"/><circle cx="127.7" cy="276.3" r="0.32"/><circle cx="136.2" cy="274.0" r="0.32"/><circle cx="124.3" cy="277.5" r="0.32"/><circle cx="117.7" cy="273.3" r="0.32"/><circle cx="117.2" cy="282.2" r="0.32"/><circle cx="121.2" cy="275.6" r="0.32"/><circle cx="126.9" cy="272.5" r="0.32"/><circle cx="124.7" cy="274.7" r="0.32"/><circle cx="137.9" cy="266.8" r="0.32"/><circle cx="130.9" cy="274.4" r="0.32"/><circle cx="126.9" cy="267.6" r="0.32"/><circle cx="124.9" cy="278.0" r="0.32"/><circle cx="118.9" cy="274.5" r="0.32"/><circle cx="133.5" cy="272.1" r="0.32"/><circle cx="128.0" cy="275.2" r="0.32"/><circle cx="128.9" cy="266.8" r="0.32"/><circle cx="119.4" cy="274.1" r="0.32"/><circle cx="133.1" cy="267.0" r="0.32"/><circle cx="123.0" cy="271.6" r="0.32"/><circle cx="119.6" cy="276.1" r="0.32"/><circle cx="121.5" cy="277.0" r="0.32"/><circle cx="115.0" cy="280.4" r="0.32"/><circle cx="124.5" cy="266.2" r="0.32"/><circle cx="132.0" cy="268.7" r="0.32"/><circle cx="115.7" cy="275.2" r="0.32"/><circle cx="129.6" cy="269.3" r="0.32"/><circle cx="132.3" cy="272.7" r="0.32"/><circle cx="131.7" cy="271.3" r="0.32"/><circle cx="135.3" cy="270.6" r="0.32"/><circle cx="130.5" cy="262.3" r="0.32"/><circle cx="132.9" cy="274.5" r="0.32"/><circle cx="126.4" cy="271.0" r="0.32"/><circle cx="138.7" cy="259.1" r="0.32"/><circle cx="130.6" cy="280.3" r="0.32"/><circle cx="122.9" cy="277.5" r="0.32"/><circle cx="138.4" cy="265.9" r="0.32"/><circle cx="131.1" cy="273.9" r="0.32"/><circle cx="123.0" cy="274.4" r="0.32"/><circle cx="129.6" cy="274.4" r="0.32"/><circle cx="127.8" cy="271.3" r="0.32"/><circle cx="122.4" cy="273.6" r="0.32"/><circle cx="132.9" cy="269.7" r="0.32"/><circle cx="123.3" cy="271.2" r="0.32"/><circle cx="142.7" cy="268.6" r="0.32"/><circle cx="131.5" cy="259.7" r="0.32"/><circle cx="131.4" cy="272.1" r="0.32"/><circle cx="137.3" cy="268.7" r="0.32"/><circle cx="127.6" cy="274.3" r="0.32"/><circle cx="117.3" cy="282.0" r="0.32"/><circle cx="129.8" cy="268.2" r="0.32"/><circle cx="135.3" cy="275.3" r="0.32"/><circle cx="120.3" cy="273.5" r="0.32"/><circle cx="129.6" cy="271.9" r="0.32"/><circle cx="125.8" cy="269.3" r="0.32"/><circle cx="139.7" cy="269.8" r="0.32"/><circle cx="121.4" cy="270.2" r="0.32"/><circle cx="137.4" cy="270.8" r="0.32"/><circle cx="138.0" cy="269.8" r="0.32"/><circle cx="123.2" cy="275.7" r="0.32"/><circle cx="116.1" cy="275.5" r="0.32"/><circle cx="127.7" cy="274.3" r="0.32"/><circle cx="124.0" cy="273.7" r="0.32"/><circle cx="130.5" cy="272.1" r="0.32"/><circle cx="131.5" cy="270.9" r="0.32"/><circle cx="126.2" cy="276.1" r="0.32"/><circle cx="128.3" cy="268.5" r="0.32"/><circle cx="124.6" cy="273.9" r="0.32"/><circle cx="127.4" cy="273.0" r="0.32"/><circle cx="128.0" cy="272.7" r="0.32"/><circle cx="127.3" cy="267.4" r="0.32"/><circle cx="130.3" cy="275.0" r="0.32"/><circle cx="130.4" cy="269.9" r="0.32"/><circle cx="130.5" cy="266.8" r="0.32"/><circle cx="117.6" cy="277.9" r="0.32"/><circle cx="122.9" cy="277.8" r="0.32"/><circle cx="122.0" cy="264.7" r="0.32"/><circle cx="122.3" cy="281.4" r="0.32"/><circle cx="125.9" cy="267.7" r="0.32"/><circle cx="123.8" cy="276.4" r="0.32"/><circle cx="130.7" cy="271.2" r="0.32"/></g>
<g fill="#111" fill-opacity="0.3"><circle cx="135.5" cy="267.8" r="0.35"/><circle cx="130.9" cy="267.5" r="0.35"/><circle cx="136.0" cy="268.4" r="0.35"/><circle cx="134.1" cy="263.3" r="0.35"/><circle cx="130.6" cy="267.8" r="0.35"/><circle cx="130.1" cy="268.7" r="0.35"/><circle cx="132.8" cy="268.3" r="0.35"/><circle cx="130.4" cy="272.4" r="0.35"/><circle cx="134.7" cy="265.5" r="0.35"/><circle cx="131.3" cy="272.5" r="0.35"/><circle cx="130.0" cy="268.2" r="0.35"/><circle cx="133.9" cy="266.0" r="0.35"/><circle cx="127.5" cy="266.5" r="0.35"/><circle cx="132.1" cy="268.8" r="0.35"/><circle cx="133.3" cy="266.1" r="0.35"/><circle cx="133.6" cy="267.3" r="0.35"/><circle cx="131.6" cy="266.1" r="0.35"/><circle cx="130.3" cy="267.7" r="0.35"/><circle cx="127.8" cy="264.4" r="0.35"/><circle cx="131.0" cy="262.3" r="0.35"/><circle cx="129.7" cy="261.0" r="0.35"/><circle cx="129.0" cy="267.4" r="0.35"/><circle cx="132.7" cy="265.9" r="0.35"/><circle cx="130.3" cy="262.5" r="0.35"/><circle cx="136.5" cy="267.3" r="0.35"/><circle cx="134.3" cy="263.8" r="0.35"/><circle cx="130.4" cy="261.5" r="0.35"/><circle cx="133.3" cy="268.3" r="0.35"/><circle cx="125.3" cy="265.9" r="0.35"/><circle cx="132.9" cy="261.6" r="0.35"/><circle cx="125.5" cy="263.3" r="0.35"/><circle cx="129.1" cy="262.5" r="0.35"/><circle cx="131.1" cy="266.6" r="0.35"/><circle cx="132.9" cy="267.8" r="0.35"/><circle cx="135.5" cy="268.9" r="0.35"/><circle cx="127.1" cy="264.7" r="0.35"/><circle cx="127.8" cy="263.3" r="0.35"/><circle cx="130.8" cy="266.0" r="0.35"/><circle cx="132.5" cy="262.0" r="0.35"/><circle cx="127.3" cy="265.9" r="0.35"/><circle cx="130.4" cy="265.2" r="0.35"/><circle cx="130.8" cy="264.1" r="0.35"/><circle cx="133.1" cy="266.9" r="0.35"/><circle cx="130.7" cy="264.3" r="0.35"/><circle cx="130.5" cy="259.2" r="0.35"/><circle cx="128.1" cy="266.1" r="0.35"/><circle cx="126.5" cy="266.5" r="0.35"/><circle cx="131.4" cy="262.6" r="0.35"/><circle cx="130.2" cy="265.2" r="0.35"/><circle cx="132.4" cy="267.5" r="0.35"/><circle cx="130.9" cy="263.9" r="0.35"/><circle cx="130.6" cy="265.8" r="0.35"/><circle cx="133.2" cy="266.7" r="0.35"/><circle cx="128.8" cy="262.6" r="0.35"/><circle cx="129.9" cy="264.1" r="0.35"/><circle cx="127.7" cy="265.7" r="0.35"/><circle cx="129.5" cy="266.3" r="0.35"/><circle cx="132.6" cy="265.0" r="0.35"/><circle cx="138.0" cy="265.2" r="0.35"/><circle cx="134.3" cy="266.3" r="0.35"/><circle cx="134.3" cy="260.1" r="0.35"/><circle cx="128.7" cy="266.6" r="0.35"/><circle cx="132.8" cy="271.8" r="0.35"/><circle cx="132.0" cy="269.2" r="0.35"/><circle cx="133.3" cy="268.4" r="0.35"/><circle cx="132.5" cy="265.6" r="0.35"/><circle cx="132.5" cy="263.3" r="0.35"/><circle cx="134.5" cy="263.5" r="0.35"/><circle cx="131.7" cy="271.3" r="0.35"/><circle cx="130.3" cy="266.0" r="0.35"/></g>
<g fill="#111" fill-opacity="0.45"><circle cx="129.0" cy="284.1" r="0.35"/><circle cx="117.2" cy="285.0" r="0.35"/><circle cx="125.5" cy="286.8" r="0.35"/><circle cx="117.4" cy="291.0" r="0.35"/><circle cx="132.0" cy="284.1" r="0.35"/><circle cx="123.6" cy="282.3" r="0.35"/><circle cx="130.5" cy="281.2" r="0.35"/><circle cx="126.0" cy="282.1" r="0.35"/><circle cx="117.8" cy="286.9" r="0.35"/><circle cx="130.0" cy="284.0" r="0.35"/><circle cx="117.9" cy="287.2" r="0.35"/><circle cx="121.7" cy="285.2" r="0.35"/><circle cx="131.1" cy="288.5" r="0.35"/><circle cx="118.9" cy="293.1" r="0.35"/><circle cx="122.0" cy="287.1" r="0.35"/><circle cx="118.1" cy="283.8" r="0.35"/><circle cx="111.5" cy="291.1" r="0.35"/><circle cx="130.2" cy="279.1" r="0.35"/><circle cx="113.0" cy="277.5" r="0.35"/><circle cx="129.1" cy="282.2" r="0.35"/><circle cx="121.6" cy="282.7" r="0.35"/><circle cx="121.3" cy="279.6" r="0.35"/><circle cx="122.1" cy="278.2" r="0.35"/><circle cx="121.6" cy="285.2" r="0.35"/><circle cx="124.8" cy="283.1" r="0.35"/><circle cx="116.6" cy="284.6" r="0.35"/><circle cx="119.1" cy="290.3" r="0.35"/><circle cx="126.6" cy="283.5" r="0.35"/><circle cx="119.2" cy="281.2" r="0.35"/><circle cx="116.4" cy="282.6" r="0.35"/><circle cx="123.8" cy="286.1" r="0.35"/><circle cx="125.4" cy="292.4" r="0.35"/><circle cx="117.8" cy="284.1" r="0.35"/><circle cx="138.8" cy="276.5" r="0.35"/><circle cx="118.9" cy="284.7" r="0.35"/><circle cx="122.9" cy="285.6" r="0.35"/><circle cx="120.6" cy="285.5" r="0.35"/><circle cx="122.3" cy="287.1" r="0.35"/><circle cx="110.6" cy="280.5" r="0.35"/><circle cx="122.0" cy="279.9" r="0.35"/><circle cx="115.7" cy="286.5" r="0.35"/><circle cx="118.1" cy="286.5" r="0.35"/><circle cx="126.5" cy="285.2" r="0.35"/><circle cx="125.0" cy="283.6" r="0.35"/><circle cx="113.5" cy="283.9" r="0.35"/><circle cx="124.7" cy="281.9" r="0.35"/><circle cx="121.4" cy="287.0" r="0.35"/><circle cx="116.7" cy="286.6" r="0.35"/><circle cx="133.2" cy="281.8" r="0.35"/><circle cx="122.9" cy="283.4" r="0.35"/><circle cx="131.2" cy="285.3" r="0.35"/><circle cx="127.4" cy="281.2" r="0.35"/><circle cx="121.9" cy="284.0" r="0.35"/><circle cx="111.3" cy="289.8" r="0.35"/><circle cx="127.4" cy="277.0" r="0.35"/><circle cx="126.5" cy="283.5" r="0.35"/><circle cx="124.7" cy="285.5" r="0.35"/><circle cx="113.0" cy="283.2" r="0.35"/><circle cx="131.0" cy="281.7" r="0.35"/><circle cx="115.9" cy="278.6" r="0.35"/><circle cx="114.7" cy="285.3" r="0.35"/><circle cx="132.2" cy="285.7" r="0.35"/><circle cx="123.5" cy="292.9" r="0.35"/><circle cx="118.9" cy="281.3" r="0.35"/><circle cx="125.2" cy="286.2" r="0.35"/><circle cx="115.9" cy="279.3" r="0.35"/><circle cx="123.7" cy="285.0" r="0.35"/><circle cx="114.2" cy="283.2" r="0.35"/><circle cx="118.7" cy="285.8" r="0.35"/><circle cx="121.3" cy="283.7" r="0.35"/><circle cx="119.9" cy="288.2" r="0.35"/><circle cx="130.3" cy="282.5" r="0.35"/><circle cx="127.1" cy="281.0" r="0.35"/><circle cx="122.4" cy="287.0" r="0.35"/><circle cx="131.1" cy="282.5" r="0.35"/><circle cx="121.6" cy="284.8" r="0.35"/><circle cx="113.0" cy="284.1" r="0.35"/><circle cx="117.9" cy="285.5" r="0.35"/><circle cx="115.2" cy="276.1" r="0.35"/><circle cx="122.2" cy="285.0" r="0.35"/><circle cx="118.7" cy="287.6" r="0.35"/><circle cx="120.4" cy="281.6" r="0.35"/><circle cx="124.9" cy="277.7" r="0.35"/><circle cx="117.9" cy="283.9" r="0.35"/><circle cx="127.1" cy="283.3" r="0.35"/><circle cx="123.9" cy="281.4" r="0.35"/><circle cx="123.8" cy="290.7" r="0.35"/><circle cx="117.9" cy="293.5" r="0.35"/><circle cx="118.1" cy="284.1" r="0.35"/><circle cx="123.0" cy="288.1" r="0.35"/><circle cx="114.6" cy="275.6" r="0.35"/><circle cx="125.6" cy="287.2" r="0.35"/><circle cx="125.7" cy="294.5" r="0.35"/><circle cx="123.2" cy="285.0" r="0.35"/><circle cx="127.6" cy="285.5" r="0.35"/><circle cx="132.0" cy="279.0" r="0.35"/><circle cx="119.7" cy="270.2" r="0.35"/><circle cx="126.9" cy="282.5" r="0.35"/><circle cx="127.5" cy="292.6" r="0.35"/><circle cx="122.0" cy="283.0" r="0.35"/><circle cx="119.0" cy="280.6" r="0.35"/><circle cx="118.2" cy="286.6" r="0.35"/><circle cx="122.2" cy="284.3" r="0.35"/><circle cx="121.0" cy="287.7" r="0.35"/><circle cx="125.0" cy="283.4" r="0.35"/><circle cx="126.0" cy="283.4" r="0.35"/><circle cx="115.1" cy="289.8" r="0.35"/><circle cx="124.8" cy="280.2" r="0.35"/><circle cx="128.5" cy="285.4" r="0.35"/><circle cx="112.6" cy="290.4" r="0.35"/><circle cx="124.0" cy="287.6" r="0.35"/><circle cx="123.2" cy="283.4" r="0.35"/><circle cx="112.7" cy="287.9" r="0.35"/><circle cx="122.2" cy="282.9" r="0.35"/><circle cx="124.1" cy="284.3" r="0.35"/><circle cx="126.1" cy="282.5" r="0.35"/><circle cx="121.8" cy="275.4" r="0.35"/><circle cx="119.5" cy="286.7" r="0.35"/><circle cx="130.0" cy="282.5" r="0.35"/><circle cx="121.3" cy="290.3" r="0.35"/><circle cx="120.0" cy="286.9" r="0.35"/><circle cx="132.1" cy="284.2" r="0.35"/><circle cx="129.4" cy="281.2" r="0.35"/><circle cx="123.2" cy="283.7" r="0.35"/><circle cx="122.7" cy="288.5" r="0.35"/><circle cx="136.3" cy="281.3" r="0.35"/><circle cx="118.5" cy="286.0" r="0.35"/><circle cx="115.7" cy="286.0" r="0.35"/><circle cx="125.4" cy="282.9" r="0.35"/><circle cx="125.2" cy="277.8" r="0.35"/><circle cx="126.6" cy="277.8" r="0.35"/><circle cx="117.8" cy="281.8" r="0.35"/><circle cx="119.6" cy="287.4" r="0.35"/><circle cx="122.5" cy="282.4" r="0.35"/><circle cx="125.3" cy="290.3" r="0.35"/><circle cx="122.0" cy="285.5" r="0.35"/><circle cx="129.4" cy="285.1" r="0.35"/><circle cx="114.3" cy="294.0" r="0.35"/><circle cx="135.3" cy="276.1" r="0.35"/><circle cx="121.8" cy="285.7" r="0.35"/><circle cx="127.8" cy="286.7" r="0.35"/><circle cx="120.4" cy="279.8" r="0.35"/><circle cx="122.6" cy="288.1" r="0.35"/><circle cx="115.5" cy="279.9" r="0.35"/><circle cx="121.9" cy="276.3" r="0.35"/><circle cx="120.4" cy="282.3" r="0.35"/><circle cx="124.7" cy="281.2" r="0.35"/><circle cx="116.7" cy="282.4" r="0.35"/><circle cx="121.7" cy="281.3" r="0.35"/><circle cx="122.1" cy="287.0" r="0.35"/><circle cx="129.1" cy="290.8" r="0.35"/><circle cx="117.3" cy="282.3" r="0.35"/><circle cx="107.1" cy="291.6" r="0.35"/><circle cx="117.7" cy="283.9" r="0.35"/><circle cx="125.1" cy="278.6" r="0.35"/><circle cx="124.8" cy="283.9" r="0.35"/><circle cx="111.0" cy="285.2" r="0.35"/><circle cx="129.2" cy="276.5" r="0.35"/><circle cx="126.8" cy="284.8" r="0.35"/><circle cx="124.8" cy="285.8" r="0.35"/><circle cx="129.8" cy="283.1" r="0.35"/><circle cx="127.2" cy="282.4" r="0.35"/><circle cx="126.4" cy="280.7" r="0.35"/><circle cx="121.3" cy="290.9" r="0.35"/><circle cx="124.7" cy="283.4" r="0.35"/><circle cx="115.1" cy="280.8" r="0.35"/><circle cx="123.2" cy="287.8" r="0.35"/><circle cx="124.6" cy="286.1" r="0.35"/><circle cx="121.7" cy="289.4" r="0.35"/><circle cx="119.7" cy="281.8" r="0.35"/><circle cx="127.3" cy="284.3" r="0.35"/><circle cx="120.3" cy="281.7" r="0.35"/><circle cx="120.5" cy="286.5" r="0.35"/><circle cx="124.1" cy="279.2" r="0.35"/><circle cx="124.6" cy="284.7" r="0.35"/><circle cx="116.0" cy="287.1" r="0.35"/><circle cx="120.3" cy="282.7" r="0.35"/><circle cx="126.8" cy="289.3" r="0.35"/><circle cx="117.9" cy="285.8" r="0.35"/><circle cx="116.7" cy="293.3" r="0.35"/><circle cx="119.0" cy="288.8" r="0.35"/><circle cx="118.1" cy="287.2" r="0.35"/><circle cx="135.3" cy="273.8" r="0.35"/><circle cx="119.4" cy="286.0" r="0.35"/><circle cx="121.4" cy="281.3" r="0.35"/><circle cx="134.9" cy="284.3" r="0.35"/><circle cx="112.1" cy="287.4" r="0.35"/><circle cx="111.7" cy="288.6" r="0.35"/><circle cx="118.5" cy="284.6" r="0.35"/><circle cx="129.6" cy="284.5" r="0.35"/><circle cx="113.7" cy="277.2" r="0.35"/><circle cx="129.1" cy="287.0" r="0.35"/><circle cx="117.1" cy="287.4" r="0.35"/><circle cx="125.0" cy="286.6" r="0.35"/><circle cx="108.4" cy="282.8" r="0.35"/><circle cx="127.4" cy="286.9" r="0.35"/><circle cx="127.3" cy="274.2" r="0.35"/><circle cx="123.0" cy="286.0" r="0.35"/><circle cx="137.3" cy="280.2" r="0.35"/><circle cx="120.0" cy="284.1" r="0.35"/></g>
<g fill="#111" fill-opacity="0.6"><circle cx="120.1" cy="281.4" r="0.4"/><circle cx="121.0" cy="280.2" r="0.4"/><circle cx="117.9" cy="281.2" r="0.4"/><circle cx="117.6" cy="280.6" r="0.4"/><circle cx="111.4" cy="286.8" r="0.4"/><circle cx="118.1" cy="281.0" r="0.4"/><circle cx="117.7" cy="286.5" r="0.4"/><circle cx="113.6" cy="282.6" r="0.4"/><circle cx="118.9" cy="284.8" r="0.4"/><circle cx="115.8" cy="275.6" r="0.4"/><circle cx="121.4" cy="284.1" r="0.4"/><circle cx="117.0" cy="282.0" r="0.4"/><circle cx="117.9" cy="281.5" r="0.4"/><circle cx="113.4" cy="280.4" r="0.4"/><circle cx="114.9" cy="280.9" r="0.4"/><circle cx="112.9" cy="285.2" r="0.4"/><circle cx="112.4" cy="285.3" r="0.4"/><circle cx="113.4" cy="284.2" r="0.4"/><circle cx="121.8" cy="283.7" r="0.4"/><circle cx="114.4" cy="283.2" r="0.4"/><circle cx="117.5" cy="276.9" r="0.4"/><circle cx="114.9" cy="283.6" r="0.4"/><circle cx="115.4" cy="283.3" r="0.4"/><circle cx="119.6" cy="285.7" r="0.4"/><circle cx="120.2" cy="285.1" r="0.4"/><circle cx="116.0" cy="282.9" r="0.4"/><circle cx="116.1" cy="281.9" r="0.4"/><circle cx="116.4" cy="277.0" r="0.4"/><circle cx="115.8" cy="282.9" r="0.4"/><circle cx="113.6" cy="282.9" r="0.4"/><circle cx="118.8" cy="282.4" r="0.4"/><circle cx="124.3" cy="273.9" r="0.4"/><circle cx="116.3" cy="276.6" r="0.4"/><circle cx="120.4" cy="292.3" r="0.4"/><circle cx="108.2" cy="283.4" r="0.4"/><circle cx="118.8" cy="281.9" r="0.4"/><circle cx="118.9" cy="275.1" r="0.4"/><circle cx="120.0" cy="284.3" r="0.4"/><circle cx="117.1" cy="280.9" r="0.4"/><circle cx="119.2" cy="281.3" r="0.4"/><circle cx="117.8" cy="281.2" r="0.4"/><circle cx="109.1" cy="282.9" r="0.4"/><circle cx="117.7" cy="285.6" r="0.4"/><circle cx="113.9" cy="282.9" r="0.4"/><circle cx="119.2" cy="283.5" r="0.4"/><circle cx="121.3" cy="290.0" r="0.4"/><circle cx="113.8" cy="276.3" r="0.4"/><circle cx="120.0" cy="288.4" r="0.4"/><circle cx="120.2" cy="285.8" r="0.4"/><circle cx="114.8" cy="280.5" r="0.4"/><circle cx="120.1" cy="279.8" r="0.4"/><circle cx="110.7" cy="279.5" r="0.4"/><circle cx="125.7" cy="289.7" r="0.4"/><circle cx="114.6" cy="280.4" r="0.4"/><circle cx="117.8" cy="280.4" r="0.4"/><circle cx="121.6" cy="282.7" r="0.4"/><circle cx="113.2" cy="287.6" r="0.4"/><circle cx="115.0" cy="283.8" r="0.4"/><circle cx="117.0" cy="281.9" r="0.4"/><circle cx="118.1" cy="280.6" r="0.4"/><circle cx="110.5" cy="275.3" r="0.4"/><circle cx="112.6" cy="280.3" r="0.4"/><circle cx="116.9" cy="283.2" r="0.4"/><circle cx="118.9" cy="283.4" r="0.4"/><circle cx="114.2" cy="280.5" r="0.4"/><circle cx="109.6" cy="282.4" r="0.4"/><circle cx="118.7" cy="284.9" r="0.4"/><circle cx="116.6" cy="282.4" r="0.4"/><circle cx="120.3" cy="283.1" r="0.4"/><circle cx="119.6" cy="285.0" r="0.4"/><circle cx="117.7" cy="287.6" r="0.4"/><circle cx="115.0" cy="281.7" r="0.4"/><circle cx="114.2" cy="280.2" r="0.4"/><circle cx="122.4" cy="289.2" r="0.4"/><circle cx="117.1" cy="285.0" r="0.4"/><circle cx="121.1" cy="285.8" r="0.4"/><circle cx="121.2" cy="278.6" r="0.4"/><circle cx="114.8" cy="284.6" r="0.4"/><circle cx="122.0" cy="283.4" r="0.4"/><circle cx="114.0" cy="281.8" r="0.4"/><circle cx="114.7" cy="280.0" r="0.4"/><circle cx="122.3" cy="280.8" r="0.4"/><circle cx="117.1" cy="290.6" r="0.4"/><circle cx="121.1" cy="284.2" r="0.4"/><circle cx="114.9" cy="284.4" r="0.4"/><circle cx="122.7" cy="285.2" r="0.4"/><circle cx="121.4" cy="283.3" r="0.4"/><circle cx="118.8" cy="282.3" r="0.4"/><circle cx="118.5" cy="287.6" r="0.4"/><circle cx="112.0" cy="282.8" r="0.4"/><circle cx="117.8" cy="281.0" r="0.4"/><circle cx="115.9" cy="285.8" r="0.4"/><circle cx="124.0" cy="285.2" r="0.4"/><circle cx="118.1" cy="277.6" r="0.4"/><circle cx="123.7" cy="283.3" r="0.4"/><circle cx="116.9" cy="279.1" r="0.4"/><circle cx="116.8" cy="279.2" r="0.4"/><circle cx="117.2" cy="284.6" r="0.4"/><circle cx="117.1" cy="284.0" r="0.4"/><circle cx="114.0" cy="288.0" r="0.4"/><circle cx="114.7" cy="276.6" r="0.4"/><circle cx="116.3" cy="280.3" r="0.4"/><circle cx="113.5" cy="281.8" r="0.4"/><circle cx="118.0" cy="278.9" r="0.4"/><circle cx="116.5" cy="288.0" r="0.4"/><circle cx="119.4" cy="282.5" r="0.4"/><circle cx="117.4" cy="282.6" r="0.4"/><circle cx="116.8" cy="285.6" r="0.4"/><circle cx="116.7" cy="274.6" r="0.4"/><circle cx="116.9" cy="279.9" r="0.4"/><circle cx="119.3" cy="280.9" r="0.4"/><circle cx="117.5" cy="290.6" r="0.4"/><circle cx="113.3" cy="279.1" r="0.4"/><circle cx="112.1" cy="274.6" r="0.4"/><circle cx="110.4" cy="284.3" r="0.4"/><circle cx="114.8" cy="276.5" r="0.4"/><circle cx="111.8" cy="285.2" r="0.4"/><circle cx="114.3" cy="281.7" r="0.4"/><circle cx="118.2" cy="287.7" r="0.4"/><circle cx="123.8" cy="286.6" r="0.4"/><circle cx="117.5" cy="283.6" r="0.4"/><circle cx="123.3" cy="288.0" r="0.4"/><circle cx="115.9" cy="284.6" r="0.4"/><circle cx="118.0" cy="283.2" r="0.4"/><circle cx="115.2" cy="278.4" r="0.4"/><circle cx="115.1" cy="277.6" r="0.4"/><circle cx="121.3" cy="284.9" r="0.4"/><circle cx="112.8" cy="287.9" r="0.4"/><circle cx="120.1" cy="276.3" r="0.4"/><circle cx="123.4" cy="285.8" r="0.4"/><circle cx="124.2" cy="278.7" r="0.4"/><circle cx="118.9" cy="284.5" r="0.4"/><circle cx="117.7" cy="283.6" r="0.4"/><circle cx="120.7" cy="277.8" r="0.4"/><circle cx="112.7" cy="278.1" r="0.4"/><circle cx="115.0" cy="280.9" r="0.4"/><circle cx="118.3" cy="283.9" r="0.4"/><circle cx="117.1" cy="280.6" r="0.4"/><circle cx="115.5" cy="286.3" r="0.4"/><circle cx="119.7" cy="283.4" r="0.4"/><circle cx="115.9" cy="288.4" r="0.4"/><circle cx="114.9" cy="285.3" r="0.4"/><circle cx="121.0" cy="282.1" r="0.4"/><circle cx="119.9" cy="279.1" r="0.4"/><circle cx="120.5" cy="283.7" r="0.4"/><circle cx="111.4" cy="285.3" r="0.4"/><circle cx="113.9" cy="287.5" r="0.4"/><circle cx="114.6" cy="282.4" r="0.4"/><circle cx="118.0" cy="281.8" r="0.4"/><circle cx="117.9" cy="281.1" r="0.4"/><circle cx="119.4" cy="283.0" r="0.4"/><circle cx="117.7" cy="273.4" r="0.4"/><circle cx="121.1" cy="283.1" r="0.4"/><circle cx="110.8" cy="283.3" r="0.4"/><circle cx="118.6" cy="286.7" r="0.4"/><circle cx="113.2" cy="288.4" r="0.4"/><circle cx="116.4" cy="291.4" r="0.4"/><circle cx="116.5" cy="285.4" r="0.4"/><circle cx="115.7" cy="279.1" r="0.4"/><circle cx="120.8" cy="286.2" r="0.4"/><circle cx="122.4" cy="286.0" r="0.4"/><circle cx="115.0" cy="277.2" r="0.4"/><circle cx="114.7" cy="280.6" r="0.4"/><circle cx="114.1" cy="285.0" r="0.4"/><circle cx="118.1" cy="282.1" r="0.4"/><circle cx="117.6" cy="282.5" r="0.4"/><circle cx="117.7" cy="285.6" r="0.4"/><circle cx="120.4" cy="280.6" r="0.4"/><circle cx="111.7" cy="288.0" r="0.4"/><circle cx="117.4" cy="286.9" r="0.4"/><circle cx="111.2" cy="281.8" r="0.4"/><circle cx="117.1" cy="278.0" r="0.4"/><circle cx="115.2" cy="285.5" r="0.4"/><circle cx="120.8" cy="288.6" r="0.4"/><circle cx="114.0" cy="278.1" r="0.4"/><circle cx="118.8" cy="286.3" r="0.4"/><circle cx="117.7" cy="278.4" r="0.4"/><circle cx="119.7" cy="285.8" r="0.4"/><circle cx="118.9" cy="281.3" r="0.4"/><circle cx="118.1" cy="285.8" r="0.4"/><circle cx="115.0" cy="276.5" r="0.4"/><circle cx="118.2" cy="284.7" r="0.4"/><circle cx="117.0" cy="286.1" r="0.4"/><circle cx="114.9" cy="282.7" r="0.4"/><circle cx="115.9" cy="285.0" r="0.4"/><circle cx="122.6" cy="282.1" r="0.4"/><circle cx="124.2" cy="288.4" r="0.4"/><circle cx="119.8" cy="285.1" r="0.4"/><circle cx="123.2" cy="282.4" r="0.4"/><circle cx="116.6" cy="279.3" r="0.4"/><circle cx="118.7" cy="287.7" r="0.4"/><circle cx="118.9" cy="284.5" r="0.4"/><circle cx="116.3" cy="283.6" r="0.4"/><circle cx="112.0" cy="286.7" r="0.4"/><circle cx="115.6" cy="279.1" r="0.4"/><circle cx="114.4" cy="280.1" r="0.4"/><circle cx="120.0" cy="286.7" r="0.4"/><circle cx="112.2" cy="286.2" r="0.4"/><circle cx="120.1" cy="281.0" r="0.4"/><circle cx="111.8" cy="280.4" r="0.4"/><circle cx="114.8" cy="284.2" r="0.4"/><circle cx="115.7" cy="275.9" r="0.4"/><circle cx="117.8" cy="277.6" r="0.4"/><circle cx="120.2" cy="278.8" r="0.4"/><circle cx="114.6" cy="280.0" r="0.4"/><circle cx="115.1" cy="287.5" r="0.4"/><circle cx="120.0" cy="285.1" r="0.4"/><circle cx="118.1" cy="277.6" r="0.4"/><circle cx="115.2" cy="281.1" r="0.4"/><circle cx="113.6" cy="284.8" r="0.4"/><circle cx="114.4" cy="280.5" r="0.4"/><circle cx="113.3" cy="275.8" r="0.4"/><circle cx="119.1" cy="287.7" r="0.4"/><circle cx="117.6" cy="279.6" r="0.4"/><circle cx="107.5" cy="283.6" r="0.4"/><circle cx="121.3" cy="284.0" r="0.4"/><circle cx="120.2" cy="288.2" r="0.4"/><circle cx="120.9" cy="281.5" r="0.4"/><circle cx="120.7" cy="285.7" r="0.4"/><circle cx="111.6" cy="281.6" r="0.4"/><circle cx="112.0" cy="282.6" r="0.4"/><circle cx="119.0" cy="279.3" r="0.4"/><circle cx="109.8" cy="287.5" r="0.4"/><circle cx="118.3" cy="288.1" r="0.4"/><circle cx="112.4" cy="286.7" r="0.4"/><circle cx="124.3" cy="290.0" r="0.4"/><circle cx="116.3" cy="283.9" r="0.4"/><circle cx="116.5" cy="286.5" r="0.4"/><circle cx="120.6" cy="283.3" r="0.4"/><circle cx="112.2" cy="285.6" r="0.4"/><circle cx="115.4" cy="285.2" r="0.4"/><circle cx="117.9" cy="288.7" r="0.4"/><circle cx="121.0" cy="281.4" r="0.4"/><circle cx="118.2" cy="289.2" r="0.4"/><circle cx="115.1" cy="284.5" r="0.4"/><circle cx="121.2" cy="287.4" r="0.4"/><circle cx="118.8" cy="278.4" r="0.4"/><circle cx="112.6" cy="283.9" r="0.4"/><circle cx="118.4" cy="291.9" r="0.4"/><circle cx="114.0" cy="287.0" r="0.4"/><circle cx="119.7" cy="277.1" r="0.4"/><circle cx="114.1" cy="283.6" r="0.4"/><circle cx="115.3" cy="282.5" r="0.4"/><circle cx="118.6" cy="280.2" r="0.4"/><circle cx="118.6" cy="280.8" r="0.4"/><circle cx="115.1" cy="284.9" r="0.4"/><circle cx="115.0" cy="284.0" r="0.4"/><circle cx="122.6" cy="283.1" r="0.4"/><circle cx="116.5" cy="285.6" r="0.4"/><circle cx="115.7" cy="286.8" r="0.4"/></g>
<ellipse cx="116.8" cy="283.6" rx="5" ry="4.6" fill="#111" filter="url(#b08)"/>
<ellipse cx="116.3" cy="284" rx="3.4" ry="3.2" fill="#000" filter="url(#b05)"/>
<rect x="122" y="239.5" width="42.2" height="38.3" fill="none" stroke="#b83a44" stroke-width="1.2"/>
<rect x="104.5" y="278.3" width="17.5" height="20" fill="none" stroke="#2f4f7f" stroke-width="1"/>
<line x1="100.8" y1="302" x2="100.8" y2="269" stroke="#222" stroke-width="1"/>
<polygon points="100.8,265 98.6,270 103.0,270" fill="#222"/>
<line x1="100.3" y1="302" x2="134" y2="302" stroke="#222" stroke-width="1"/>
<polygon points="138,302 133,299.8 133,304.2" fill="#222"/>
<text x="96.7" y="291.9" font-size="9.6" text-anchor="start" font-weight="normal" fill="#333" textLength="17.6" lengthAdjust="spacingAndGlyphs" transform="rotate(-90 96.7 291.9)">FoxP3</text>
<text x="110.8" y="312.6" font-size="9" text-anchor="start" font-weight="normal" fill="#333" textLength="16.6" lengthAdjust="spacingAndGlyphs">CD25</text>
<line x1="167" y1="246.4" x2="183" y2="235" stroke="#c8102e" stroke-width="1"/>
<polygon points="186,233 180.5,234 183.5,238" fill="#c8102e"/>
<line x1="126.2" y1="294" x2="172" y2="316.5" stroke="#1f3f73" stroke-width="1"/>
<polygon points="175.5,318.5 169.5,317.8 171.6,313.8" fill="#1f3f73"/>
<rect x="189.5" y="204.7" width="60" height="60" stroke="#c4c4c4" stroke-width="1" fill="none"/>
<line x1="205.8" y1="204.7" x2="205.8" y2="264.7" stroke="#555" stroke-width="1"/>
<line x1="189.5" y1="249.8" x2="249.5" y2="249.8" stroke="#555" stroke-width="1"/>
<ellipse cx="212" cy="244.5" rx="4.5" ry="3.5" fill="#999" fill-opacity="0.6" filter="url(#b1)"/>
<g fill="#111" fill-opacity="0.45"><circle cx="206.9" cy="246.5" r="0.35"/><circle cx="210.0" cy="241.9" r="0.35"/><circle cx="219.1" cy="241.8" r="0.35"/><circle cx="219.0" cy="246.6" r="0.35"/><circle cx="217.8" cy="241.4" r="0.35"/><circle cx="216.8" cy="249.2" r="0.35"/><circle cx="211.5" cy="244.1" r="0.35"/><circle cx="221.8" cy="245.1" r="0.35"/><circle cx="210.3" cy="242.5" r="0.35"/><circle cx="213.8" cy="245.6" r="0.35"/><circle cx="212.7" cy="250.0" r="0.35"/><circle cx="210.7" cy="246.0" r="0.35"/><circle cx="217.8" cy="241.3" r="0.35"/><circle cx="216.2" cy="250.4" r="0.35"/><circle cx="206.6" cy="241.0" r="0.35"/><circle cx="207.8" cy="238.6" r="0.35"/><circle cx="213.8" cy="238.6" r="0.35"/><circle cx="214.0" cy="249.2" r="0.35"/><circle cx="205.5" cy="243.5" r="0.35"/><circle cx="204.3" cy="247.0" r="0.35"/><circle cx="209.1" cy="243.6" r="0.35"/><circle cx="212.2" cy="246.2" r="0.35"/><circle cx="210.6" cy="244.5" r="0.35"/><circle cx="209.8" cy="244.9" r="0.35"/><circle cx="207.3" cy="244.7" r="0.35"/><circle cx="204.3" cy="242.9" r="0.35"/><circle cx="219.7" cy="244.8" r="0.35"/><circle cx="207.0" cy="245.3" r="0.35"/><circle cx="208.1" cy="239.2" r="0.35"/><circle cx="209.1" cy="246.9" r="0.35"/><circle cx="213.5" cy="244.2" r="0.35"/><circle cx="208.3" cy="241.0" r="0.35"/><circle cx="217.4" cy="245.3" r="0.35"/><circle cx="208.2" cy="237.7" r="0.35"/><circle cx="206.5" cy="252.4" r="0.35"/><circle cx="207.4" cy="244.3" r="0.35"/><circle cx="212.8" cy="244.0" r="0.35"/><circle cx="210.9" cy="240.1" r="0.35"/><circle cx="207.8" cy="249.9" r="0.35"/><circle cx="209.0" cy="247.2" r="0.35"/><circle cx="205.2" cy="243.6" r="0.35"/><circle cx="213.0" cy="247.8" r="0.35"/><circle cx="207.5" cy="246.4" r="0.35"/><circle cx="213.5" cy="242.1" r="0.35"/><circle cx="213.9" cy="241.6" r="0.35"/><circle cx="208.8" cy="244.4" r="0.35"/><circle cx="201.1" cy="244.1" r="0.35"/><circle cx="208.0" cy="239.8" r="0.35"/><circle cx="210.3" cy="246.9" r="0.35"/><circle cx="210.4" cy="248.6" r="0.35"/><circle cx="207.4" cy="240.3" r="0.35"/><circle cx="218.2" cy="245.8" r="0.35"/><circle cx="215.8" cy="241.9" r="0.35"/><circle cx="215.2" cy="245.3" r="0.35"/><circle cx="214.6" cy="244.6" r="0.35"/><circle cx="216.8" cy="242.4" r="0.35"/><circle cx="208.1" cy="239.8" r="0.35"/><circle cx="216.6" cy="242.1" r="0.35"/><circle cx="207.8" cy="241.5" r="0.35"/><circle cx="210.2" cy="240.4" r="0.35"/><circle cx="210.8" cy="242.5" r="0.35"/><circle cx="209.8" cy="241.4" r="0.35"/><circle cx="212.1" cy="243.0" r="0.35"/><circle cx="212.5" cy="245.3" r="0.35"/><circle cx="213.4" cy="237.5" r="0.35"/><circle cx="209.9" cy="242.0" r="0.35"/><circle cx="215.1" cy="239.5" r="0.35"/><circle cx="209.1" cy="243.6" r="0.35"/><circle cx="210.7" cy="247.7" r="0.35"/><circle cx="210.2" cy="247.6" r="0.35"/><circle cx="206.1" cy="238.7" r="0.35"/><circle cx="216.9" cy="245.9" r="0.35"/><circle cx="214.0" cy="244.9" r="0.35"/><circle cx="213.9" cy="240.6" r="0.35"/><circle cx="215.8" cy="242.8" r="0.35"/><circle cx="215.9" cy="244.8" r="0.35"/><circle cx="204.1" cy="240.4" r="0.35"/><circle cx="216.5" cy="244.1" r="0.35"/><circle cx="210.4" cy="245.3" r="0.35"/><circle cx="210.3" cy="242.8" r="0.35"/><circle cx="212.4" cy="245.0" r="0.35"/><circle cx="218.1" cy="244.6" r="0.35"/><circle cx="219.5" cy="250.3" r="0.35"/><circle cx="218.9" cy="247.9" r="0.35"/><circle cx="212.5" cy="244.9" r="0.35"/><circle cx="211.4" cy="242.2" r="0.35"/><circle cx="211.7" cy="242.4" r="0.35"/><circle cx="218.6" cy="246.2" r="0.35"/><circle cx="210.2" cy="238.4" r="0.35"/><circle cx="211.8" cy="243.2" r="0.35"/><circle cx="207.7" cy="240.9" r="0.35"/><circle cx="203.0" cy="246.3" r="0.35"/><circle cx="211.7" cy="252.8" r="0.35"/><circle cx="211.9" cy="244.0" r="0.35"/><circle cx="217.8" cy="244.9" r="0.35"/><circle cx="212.7" cy="243.3" r="0.35"/><circle cx="209.6" cy="249.3" r="0.35"/><circle cx="216.0" cy="250.0" r="0.35"/><circle cx="210.6" cy="244.6" r="0.35"/><circle cx="208.5" cy="247.6" r="0.35"/><circle cx="206.4" cy="246.3" r="0.35"/><circle cx="216.4" cy="249.0" r="0.35"/><circle cx="208.2" cy="248.0" r="0.35"/><circle cx="209.1" cy="242.1" r="0.35"/><circle cx="206.7" cy="248.2" r="0.35"/><circle cx="218.6" cy="242.6" r="0.35"/><circle cx="209.0" cy="243.4" r="0.35"/><circle cx="222.0" cy="247.7" r="0.35"/><circle cx="209.8" cy="238.8" r="0.35"/><circle cx="209.3" cy="248.3" r="0.35"/><circle cx="219.5" cy="243.6" r="0.35"/><circle cx="209.2" cy="242.9" r="0.35"/><circle cx="204.5" cy="247.4" r="0.35"/><circle cx="207.7" cy="247.9" r="0.35"/><circle cx="205.2" cy="240.4" r="0.35"/><circle cx="213.2" cy="242.1" r="0.35"/><circle cx="215.1" cy="244.5" r="0.35"/><circle cx="207.3" cy="246.5" r="0.35"/><circle cx="215.4" cy="238.4" r="0.35"/><circle cx="219.3" cy="246.1" r="0.35"/><circle cx="215.0" cy="238.5" r="0.35"/><circle cx="209.1" cy="243.4" r="0.35"/><circle cx="216.3" cy="239.8" r="0.35"/><circle cx="208.5" cy="238.0" r="0.35"/><circle cx="211.0" cy="245.6" r="0.35"/><circle cx="205.3" cy="242.6" r="0.35"/><circle cx="214.0" cy="249.6" r="0.35"/><circle cx="214.7" cy="243.5" r="0.35"/><circle cx="207.3" cy="241.5" r="0.35"/><circle cx="209.3" cy="245.0" r="0.35"/><circle cx="211.8" cy="249.8" r="0.35"/><circle cx="213.1" cy="241.1" r="0.35"/><circle cx="218.2" cy="247.5" r="0.35"/><circle cx="212.4" cy="242.2" r="0.35"/><circle cx="204.5" cy="241.2" r="0.35"/><circle cx="215.6" cy="241.9" r="0.35"/><circle cx="206.7" cy="245.1" r="0.35"/><circle cx="213.0" cy="246.4" r="0.35"/><circle cx="214.6" cy="249.0" r="0.35"/><circle cx="208.6" cy="247.6" r="0.35"/><circle cx="208.1" cy="246.7" r="0.35"/><circle cx="212.7" cy="245.3" r="0.35"/><circle cx="215.9" cy="244.4" r="0.35"/><circle cx="216.4" cy="247.3" r="0.35"/><circle cx="212.5" cy="242.7" r="0.35"/><circle cx="209.0" cy="242.8" r="0.35"/><circle cx="211.2" cy="244.4" r="0.35"/><circle cx="223.9" cy="246.5" r="0.35"/><circle cx="215.1" cy="241.7" r="0.35"/><circle cx="209.2" cy="243.5" r="0.35"/><circle cx="212.8" cy="241.2" r="0.35"/><circle cx="218.4" cy="242.7" r="0.35"/><circle cx="216.3" cy="237.0" r="0.35"/><circle cx="212.0" cy="245.4" r="0.35"/><circle cx="212.8" cy="246.4" r="0.35"/><circle cx="213.1" cy="245.0" r="0.35"/><circle cx="204.4" cy="242.2" r="0.35"/><circle cx="202.6" cy="246.5" r="0.35"/><circle cx="213.2" cy="243.9" r="0.35"/><circle cx="208.7" cy="242.6" r="0.35"/></g>
<g fill="#111" fill-opacity="0.3"><circle cx="227.1" cy="249.9" r="0.3"/><circle cx="215.7" cy="248.2" r="0.3"/><circle cx="206.5" cy="235.3" r="0.3"/><circle cx="213.1" cy="239.5" r="0.3"/><circle cx="212.6" cy="243.8" r="0.3"/><circle cx="234.1" cy="240.4" r="0.3"/><circle cx="216.3" cy="244.1" r="0.3"/><circle cx="215.8" cy="246.7" r="0.3"/><circle cx="226.7" cy="238.0" r="0.3"/><circle cx="217.0" cy="241.9" r="0.3"/><circle cx="218.1" cy="236.9" r="0.3"/><circle cx="205.5" cy="233.7" r="0.3"/><circle cx="219.2" cy="243.8" r="0.3"/><circle cx="216.4" cy="233.5" r="0.3"/><circle cx="213.8" cy="240.0" r="0.3"/><circle cx="207.5" cy="239.3" r="0.3"/><circle cx="220.2" cy="245.2" r="0.3"/><circle cx="215.9" cy="245.1" r="0.3"/><circle cx="212.4" cy="243.3" r="0.3"/><circle cx="216.2" cy="245.2" r="0.3"/><circle cx="215.6" cy="242.4" r="0.3"/><circle cx="215.2" cy="240.4" r="0.3"/><circle cx="229.4" cy="245.1" r="0.3"/><circle cx="218.6" cy="252.2" r="0.3"/><circle cx="224.4" cy="236.8" r="0.3"/><circle cx="220.2" cy="246.4" r="0.3"/><circle cx="227.3" cy="248.3" r="0.3"/><circle cx="220.6" cy="238.3" r="0.3"/><circle cx="210.8" cy="244.1" r="0.3"/><circle cx="219.0" cy="238.9" r="0.3"/><circle cx="213.7" cy="241.4" r="0.3"/><circle cx="216.4" cy="244.3" r="0.3"/><circle cx="214.3" cy="238.1" r="0.3"/><circle cx="223.5" cy="249.4" r="0.3"/><circle cx="215.4" cy="247.1" r="0.3"/><circle cx="218.7" cy="245.6" r="0.3"/><circle cx="218.9" cy="239.9" r="0.3"/><circle cx="219.4" cy="247.0" r="0.3"/><circle cx="210.6" cy="250.9" r="0.3"/><circle cx="228.5" cy="250.3" r="0.3"/><circle cx="227.9" cy="246.0" r="0.3"/><circle cx="214.0" cy="240.6" r="0.3"/><circle cx="211.1" cy="243.5" r="0.3"/><circle cx="215.8" cy="245.7" r="0.3"/><circle cx="203.9" cy="252.2" r="0.3"/><circle cx="229.7" cy="242.9" r="0.3"/><circle cx="220.1" cy="244.9" r="0.3"/><circle cx="217.6" cy="242.2" r="0.3"/><circle cx="215.3" cy="239.7" r="0.3"/><circle cx="217.1" cy="242.9" r="0.3"/><circle cx="217.9" cy="239.6" r="0.3"/><circle cx="216.2" cy="243.2" r="0.3"/><circle cx="219.6" cy="238.7" r="0.3"/><circle cx="218.5" cy="246.9" r="0.3"/><circle cx="219.6" cy="241.5" r="0.3"/><circle cx="213.1" cy="242.1" r="0.3"/><circle cx="220.4" cy="249.2" r="0.3"/><circle cx="215.1" cy="240.4" r="0.3"/><circle cx="218.3" cy="243.8" r="0.3"/><circle cx="210.6" cy="240.1" r="0.3"/></g>
<g fill="#111" fill-opacity="0.45"><circle cx="207.6" cy="255.1" r="0.3"/><circle cx="203.8" cy="252.4" r="0.3"/><circle cx="209.7" cy="252.0" r="0.3"/><circle cx="208.4" cy="254.6" r="0.3"/><circle cx="207.6" cy="252.4" r="0.3"/><circle cx="207.8" cy="253.5" r="0.3"/><circle cx="209.2" cy="252.7" r="0.3"/><circle cx="211.8" cy="251.3" r="0.3"/><circle cx="207.4" cy="254.0" r="0.3"/><circle cx="211.4" cy="253.0" r="0.3"/><circle cx="209.9" cy="253.1" r="0.3"/><circle cx="210.6" cy="256.8" r="0.3"/><circle cx="206.6" cy="254.7" r="0.3"/><circle cx="204.8" cy="255.6" r="0.3"/><circle cx="212.2" cy="254.1" r="0.3"/><circle cx="204.0" cy="254.6" r="0.3"/><circle cx="212.0" cy="255.7" r="0.3"/><circle cx="210.8" cy="251.1" r="0.3"/><circle cx="205.6" cy="256.3" r="0.3"/><circle cx="203.7" cy="255.8" r="0.3"/><circle cx="214.6" cy="255.2" r="0.3"/><circle cx="211.9" cy="253.5" r="0.3"/><circle cx="203.7" cy="253.8" r="0.3"/><circle cx="207.3" cy="253.9" r="0.3"/><circle cx="210.4" cy="253.8" r="0.3"/><circle cx="208.7" cy="254.7" r="0.3"/><circle cx="208.0" cy="256.9" r="0.3"/><circle cx="209.5" cy="254.1" r="0.3"/><circle cx="207.3" cy="253.0" r="0.3"/><circle cx="212.7" cy="254.2" r="0.3"/><circle cx="204.2" cy="253.1" r="0.3"/><circle cx="207.5" cy="253.3" r="0.3"/><circle cx="211.8" cy="252.1" r="0.3"/><circle cx="209.7" cy="254.2" r="0.3"/><circle cx="203.9" cy="254.1" r="0.3"/><circle cx="207.7" cy="254.8" r="0.3"/><circle cx="206.4" cy="254.5" r="0.3"/><circle cx="202.2" cy="252.3" r="0.3"/><circle cx="210.7" cy="255.7" r="0.3"/><circle cx="208.0" cy="253.0" r="0.3"/><circle cx="211.8" cy="250.7" r="0.3"/><circle cx="205.2" cy="255.1" r="0.3"/><circle cx="210.3" cy="252.3" r="0.3"/><circle cx="201.4" cy="256.3" r="0.3"/><circle cx="208.5" cy="252.6" r="0.3"/><circle cx="208.2" cy="255.4" r="0.3"/><circle cx="198.9" cy="255.8" r="0.3"/><circle cx="210.6" cy="250.7" r="0.3"/><circle cx="210.7" cy="251.2" r="0.3"/><circle cx="212.0" cy="254.6" r="0.3"/><circle cx="215.9" cy="253.0" r="0.3"/><circle cx="208.0" cy="255.7" r="0.3"/><circle cx="205.8" cy="252.9" r="0.3"/><circle cx="206.7" cy="253.9" r="0.3"/><circle cx="204.2" cy="254.8" r="0.3"/><circle cx="209.9" cy="254.1" r="0.3"/><circle cx="214.0" cy="253.5" r="0.3"/><circle cx="212.6" cy="253.1" r="0.3"/><circle cx="210.6" cy="250.9" r="0.3"/><circle cx="208.7" cy="253.7" r="0.3"/><circle cx="206.3" cy="253.0" r="0.3"/><circle cx="206.8" cy="252.8" r="0.3"/><circle cx="200.3" cy="253.0" r="0.3"/><circle cx="206.1" cy="253.2" r="0.3"/><circle cx="204.3" cy="253.8" r="0.3"/><circle cx="210.7" cy="253.6" r="0.3"/><circle cx="206.3" cy="256.2" r="0.3"/><circle cx="211.4" cy="255.5" r="0.3"/><circle cx="212.0" cy="253.5" r="0.3"/><circle cx="207.5" cy="255.8" r="0.3"/></g>
<ellipse cx="202.2" cy="243.5" rx="1.4" ry="8.5" fill="#555" fill-opacity="0.75" filter="url(#b08)"/>
<g fill="#111" fill-opacity="0.5"><circle cx="201.3" cy="240.3" r="0.35"/><circle cx="202.5" cy="243.2" r="0.35"/><circle cx="201.7" cy="246.9" r="0.35"/><circle cx="201.8" cy="245.4" r="0.35"/><circle cx="203.3" cy="245.0" r="0.35"/><circle cx="202.9" cy="234.0" r="0.35"/><circle cx="200.4" cy="237.3" r="0.35"/><circle cx="202.6" cy="250.0" r="0.35"/><circle cx="200.5" cy="242.8" r="0.35"/><circle cx="201.0" cy="236.6" r="0.35"/><circle cx="201.7" cy="245.2" r="0.35"/><circle cx="202.3" cy="248.1" r="0.35"/><circle cx="200.8" cy="246.3" r="0.35"/><circle cx="203.1" cy="241.4" r="0.35"/><circle cx="202.6" cy="237.6" r="0.35"/><circle cx="200.7" cy="238.6" r="0.35"/><circle cx="201.2" cy="258.3" r="0.35"/><circle cx="201.4" cy="250.9" r="0.35"/><circle cx="202.2" cy="242.9" r="0.35"/><circle cx="202.9" cy="236.3" r="0.35"/><circle cx="203.1" cy="243.3" r="0.35"/><circle cx="200.2" cy="244.6" r="0.35"/><circle cx="202.7" cy="243.7" r="0.35"/><circle cx="203.9" cy="238.5" r="0.35"/><circle cx="202.6" cy="245.5" r="0.35"/><circle cx="200.9" cy="248.2" r="0.35"/><circle cx="200.3" cy="233.2" r="0.35"/><circle cx="202.6" cy="234.5" r="0.35"/><circle cx="201.9" cy="231.1" r="0.35"/><circle cx="202.1" cy="234.2" r="0.35"/><circle cx="202.4" cy="231.8" r="0.35"/><circle cx="202.5" cy="239.4" r="0.35"/><circle cx="202.1" cy="240.6" r="0.35"/><circle cx="202.2" cy="233.1" r="0.35"/><circle cx="198.9" cy="241.2" r="0.35"/><circle cx="200.9" cy="238.3" r="0.35"/><circle cx="202.5" cy="229.1" r="0.35"/><circle cx="201.1" cy="237.3" r="0.35"/><circle cx="200.7" cy="243.0" r="0.35"/><circle cx="201.8" cy="236.1" r="0.35"/><circle cx="200.8" cy="245.8" r="0.35"/><circle cx="201.2" cy="244.5" r="0.35"/><circle cx="202.5" cy="229.6" r="0.35"/><circle cx="200.7" cy="241.0" r="0.35"/><circle cx="202.4" cy="245.7" r="0.35"/><circle cx="203.0" cy="247.2" r="0.35"/><circle cx="201.6" cy="239.7" r="0.35"/><circle cx="202.9" cy="238.4" r="0.35"/><circle cx="203.3" cy="231.5" r="0.35"/><circle cx="202.8" cy="240.0" r="0.35"/><circle cx="199.6" cy="246.9" r="0.35"/><circle cx="202.4" cy="241.1" r="0.35"/><circle cx="200.7" cy="238.2" r="0.35"/><circle cx="203.8" cy="236.0" r="0.35"/><circle cx="197.8" cy="235.9" r="0.35"/><circle cx="200.6" cy="240.2" r="0.35"/><circle cx="201.5" cy="235.5" r="0.35"/><circle cx="201.0" cy="247.3" r="0.35"/><circle cx="200.3" cy="252.7" r="0.35"/><circle cx="201.3" cy="234.4" r="0.35"/></g>
<ellipse cx="202.4" cy="253.3" rx="2.6" ry="2.8" fill="#000" filter="url(#b08)"/>
<line x1="187.4" y1="268" x2="187.4" y2="234.5" stroke="#222" stroke-width="1"/>
<polygon points="187.4,230.5 185.20000000000002,235.5 189.6,235.5" fill="#222"/>
<line x1="186.9" y1="268" x2="221" y2="268" stroke="#222" stroke-width="1"/>
<polygon points="225,268 220,265.8 220,270.2" fill="#222"/>
<text x="182.0" y="257.8" font-size="9" text-anchor="start" font-weight="normal" fill="#333" textLength="16.2" lengthAdjust="spacingAndGlyphs" transform="rotate(-90 182.0 257.8)">CD73</text>
<text x="197.7" y="278.3" font-size="8.8" text-anchor="start" font-weight="normal" fill="#333" textLength="17.1" lengthAdjust="spacingAndGlyphs">CD39</text>
<rect x="187" y="289.2" width="60" height="59.7" stroke="#c4c4c4" stroke-width="1" fill="none"/>
<line x1="203.3" y1="289.2" x2="203.3" y2="348.9" stroke="#555" stroke-width="1"/>
<line x1="187" y1="333.8" x2="247" y2="333.8" stroke="#555" stroke-width="1"/>
<ellipse cx="210.5" cy="340.5" rx="7.5" ry="2.7" fill="#555" fill-opacity="0.8" filter="url(#b1)"/>
<g fill="#111" fill-opacity="0.5"><circle cx="213.5" cy="341.4" r="0.35"/><circle cx="205.3" cy="341.7" r="0.35"/><circle cx="201.7" cy="339.0" r="0.35"/><circle cx="215.1" cy="340.1" r="0.35"/><circle cx="204.1" cy="341.3" r="0.35"/><circle cx="214.1" cy="340.5" r="0.35"/><circle cx="201.9" cy="339.9" r="0.35"/><circle cx="211.9" cy="341.7" r="0.35"/><circle cx="218.3" cy="340.1" r="0.35"/><circle cx="207.8" cy="340.4" r="0.35"/><circle cx="215.4" cy="339.0" r="0.35"/><circle cx="215.9" cy="336.1" r="0.35"/><circle cx="213.6" cy="339.4" r="0.35"/><circle cx="212.1" cy="341.6" r="0.35"/><circle cx="204.7" cy="340.4" r="0.35"/><circle cx="211.1" cy="341.4" r="0.35"/><circle cx="205.8" cy="338.9" r="0.35"/><circle cx="201.3" cy="344.6" r="0.35"/><circle cx="209.1" cy="340.1" r="0.35"/><circle cx="203.3" cy="342.0" r="0.35"/><circle cx="207.6" cy="342.8" r="0.35"/><circle cx="213.8" cy="340.5" r="0.35"/><circle cx="213.3" cy="338.7" r="0.35"/><circle cx="208.5" cy="339.6" r="0.35"/><circle cx="204.3" cy="340.5" r="0.35"/><circle cx="209.3" cy="342.8" r="0.35"/><circle cx="194.9" cy="339.4" r="0.35"/><circle cx="205.9" cy="339.8" r="0.35"/><circle cx="211.9" cy="341.1" r="0.35"/><circle cx="210.1" cy="339.7" r="0.35"/><circle cx="212.2" cy="341.1" r="0.35"/><circle cx="201.7" cy="340.1" r="0.35"/><circle cx="203.8" cy="338.6" r="0.35"/><circle cx="210.7" cy="340.6" r="0.35"/><circle cx="210.5" cy="339.1" r="0.35"/><circle cx="209.1" cy="339.0" r="0.35"/><circle cx="211.7" cy="341.6" r="0.35"/><circle cx="217.9" cy="342.5" r="0.35"/><circle cx="206.4" cy="339.8" r="0.35"/><circle cx="205.8" cy="341.0" r="0.35"/><circle cx="218.9" cy="341.6" r="0.35"/><circle cx="200.1" cy="338.5" r="0.35"/><circle cx="204.2" cy="341.3" r="0.35"/><circle cx="210.0" cy="341.0" r="0.35"/><circle cx="218.0" cy="339.2" r="0.35"/><circle cx="206.2" cy="343.6" r="0.35"/><circle cx="211.5" cy="339.3" r="0.35"/><circle cx="200.9" cy="338.1" r="0.35"/><circle cx="199.0" cy="340.6" r="0.35"/><circle cx="210.2" cy="342.1" r="0.35"/><circle cx="209.4" cy="339.4" r="0.35"/><circle cx="206.7" cy="343.5" r="0.35"/><circle cx="202.1" cy="340.8" r="0.35"/><circle cx="210.1" cy="341.5" r="0.35"/><circle cx="208.2" cy="341.3" r="0.35"/><circle cx="213.7" cy="340.3" r="0.35"/><circle cx="207.9" cy="340.2" r="0.35"/><circle cx="205.7" cy="340.2" r="0.35"/><circle cx="208.6" cy="340.8" r="0.35"/><circle cx="216.0" cy="342.6" r="0.35"/><circle cx="208.0" cy="341.5" r="0.35"/><circle cx="211.3" cy="341.7" r="0.35"/><circle cx="210.1" cy="340.9" r="0.35"/><circle cx="207.9" cy="339.2" r="0.35"/><circle cx="213.9" cy="342.6" r="0.35"/><circle cx="213.0" cy="341.2" r="0.35"/><circle cx="211.2" cy="339.8" r="0.35"/><circle cx="202.0" cy="341.6" r="0.35"/><circle cx="210.9" cy="339.6" r="0.35"/><circle cx="205.7" cy="342.5" r="0.35"/><circle cx="201.9" cy="343.3" r="0.35"/><circle cx="212.9" cy="344.3" r="0.35"/><circle cx="206.8" cy="340.5" r="0.35"/><circle cx="207.7" cy="340.7" r="0.35"/><circle cx="209.1" cy="339.3" r="0.35"/><circle cx="214.8" cy="339.2" r="0.35"/><circle cx="207.7" cy="341.4" r="0.35"/><circle cx="207.6" cy="339.8" r="0.35"/><circle cx="211.6" cy="339.9" r="0.35"/><circle cx="204.4" cy="340.3" r="0.35"/><circle cx="209.0" cy="343.2" r="0.35"/><circle cx="205.1" cy="342.1" r="0.35"/><circle cx="206.5" cy="339.9" r="0.35"/><circle cx="208.5" cy="340.9" r="0.35"/><circle cx="213.9" cy="343.3" r="0.35"/><circle cx="207.1" cy="342.6" r="0.35"/><circle cx="214.5" cy="341.8" r="0.35"/><circle cx="206.6" cy="341.9" r="0.35"/><circle cx="209.5" cy="341.1" r="0.35"/><circle cx="208.8" cy="341.6" r="0.35"/><circle cx="215.0" cy="342.3" r="0.35"/><circle cx="209.1" cy="342.1" r="0.35"/><circle cx="216.5" cy="339.0" r="0.35"/><circle cx="216.6" cy="338.4" r="0.35"/><circle cx="212.4" cy="341.5" r="0.35"/><circle cx="216.7" cy="340.9" r="0.35"/><circle cx="207.8" cy="339.2" r="0.35"/><circle cx="204.4" cy="341.7" r="0.35"/><circle cx="208.9" cy="339.4" r="0.35"/><circle cx="212.4" cy="339.3" r="0.35"/><circle cx="208.0" cy="339.8" r="0.35"/><circle cx="217.4" cy="342.8" r="0.35"/><circle cx="209.3" cy="338.0" r="0.35"/><circle cx="211.2" cy="340.6" r="0.35"/><circle cx="211.6" cy="341.4" r="0.35"/><circle cx="208.6" cy="342.0" r="0.35"/><circle cx="213.8" cy="340.8" r="0.35"/><circle cx="208.2" cy="339.7" r="0.35"/><circle cx="213.1" cy="338.7" r="0.35"/><circle cx="209.3" cy="339.3" r="0.35"/><circle cx="203.7" cy="341.5" r="0.35"/><circle cx="209.9" cy="340.6" r="0.35"/><circle cx="213.9" cy="338.1" r="0.35"/><circle cx="209.7" cy="341.0" r="0.35"/><circle cx="213.7" cy="338.8" r="0.35"/><circle cx="213.2" cy="340.9" r="0.35"/><circle cx="216.1" cy="342.3" r="0.35"/><circle cx="212.5" cy="343.9" r="0.35"/><circle cx="210.0" cy="339.8" r="0.35"/><circle cx="208.5" cy="339.0" r="0.35"/><circle cx="209.9" cy="337.5" r="0.35"/><circle cx="209.6" cy="341.2" r="0.35"/><circle cx="214.5" cy="339.9" r="0.35"/><circle cx="216.2" cy="339.5" r="0.35"/><circle cx="209.4" cy="337.5" r="0.35"/><circle cx="206.6" cy="339.2" r="0.35"/><circle cx="216.6" cy="341.3" r="0.35"/><circle cx="205.1" cy="341.3" r="0.35"/><circle cx="212.1" cy="340.1" r="0.35"/><circle cx="210.1" cy="340.0" r="0.35"/><circle cx="207.6" cy="337.7" r="0.35"/><circle cx="209.6" cy="342.5" r="0.35"/><circle cx="216.3" cy="340.1" r="0.35"/><circle cx="206.7" cy="340.2" r="0.35"/><circle cx="213.9" cy="341.0" r="0.35"/><circle cx="207.4" cy="341.1" r="0.35"/><circle cx="209.1" cy="341.3" r="0.35"/><circle cx="208.2" cy="338.2" r="0.35"/><circle cx="210.3" cy="341.7" r="0.35"/><circle cx="205.1" cy="340.3" r="0.35"/><circle cx="213.9" cy="339.9" r="0.35"/><circle cx="207.1" cy="343.7" r="0.35"/><circle cx="213.6" cy="342.1" r="0.35"/><circle cx="205.9" cy="343.0" r="0.35"/><circle cx="202.7" cy="339.7" r="0.35"/><circle cx="213.2" cy="342.6" r="0.35"/><circle cx="205.9" cy="339.5" r="0.35"/><circle cx="210.9" cy="337.5" r="0.35"/><circle cx="212.8" cy="341.4" r="0.35"/><circle cx="208.0" cy="341.3" r="0.35"/><circle cx="213.4" cy="341.0" r="0.35"/><circle cx="212.3" cy="342.9" r="0.35"/><circle cx="207.9" cy="340.8" r="0.35"/><circle cx="207.7" cy="342.1" r="0.35"/><circle cx="208.2" cy="341.2" r="0.35"/><circle cx="210.6" cy="340.6" r="0.35"/><circle cx="217.5" cy="340.4" r="0.35"/><circle cx="216.2" cy="341.8" r="0.35"/><circle cx="215.8" cy="340.2" r="0.35"/><circle cx="214.0" cy="341.7" r="0.35"/></g>
<path d="M196.8,345.5 L196.8,333 L198.2,322 L200.2,321 L201.8,331 L203.4,335 L203.4,345.5 Z" fill="#111" filter="url(#b08)"/>
<g fill="#111" fill-opacity="0.6"><circle cx="198.5" cy="334.6" r="0.35"/><circle cx="199.3" cy="332.8" r="0.35"/><circle cx="201.5" cy="328.8" r="0.35"/><circle cx="196.9" cy="322.9" r="0.35"/><circle cx="198.8" cy="329.3" r="0.35"/><circle cx="199.5" cy="336.3" r="0.35"/><circle cx="202.2" cy="334.8" r="0.35"/><circle cx="200.2" cy="328.7" r="0.35"/><circle cx="200.4" cy="340.9" r="0.35"/><circle cx="201.6" cy="321.7" r="0.35"/><circle cx="200.9" cy="342.2" r="0.35"/><circle cx="200.8" cy="324.4" r="0.35"/><circle cx="199.0" cy="336.4" r="0.35"/><circle cx="200.1" cy="328.3" r="0.35"/><circle cx="198.1" cy="338.6" r="0.35"/><circle cx="197.4" cy="341.3" r="0.35"/><circle cx="199.5" cy="334.7" r="0.35"/><circle cx="197.4" cy="329.6" r="0.35"/><circle cx="200.6" cy="324.5" r="0.35"/><circle cx="202.7" cy="324.9" r="0.35"/><circle cx="197.6" cy="333.2" r="0.35"/><circle cx="200.2" cy="337.2" r="0.35"/><circle cx="198.9" cy="331.8" r="0.35"/><circle cx="199.1" cy="329.7" r="0.35"/><circle cx="195.5" cy="338.5" r="0.35"/><circle cx="199.9" cy="333.9" r="0.35"/><circle cx="198.5" cy="334.4" r="0.35"/><circle cx="199.5" cy="332.6" r="0.35"/><circle cx="201.2" cy="323.1" r="0.35"/><circle cx="199.9" cy="326.9" r="0.35"/><circle cx="199.0" cy="341.6" r="0.35"/><circle cx="197.8" cy="332.4" r="0.35"/><circle cx="198.6" cy="338.5" r="0.35"/><circle cx="198.0" cy="323.3" r="0.35"/><circle cx="200.3" cy="331.0" r="0.35"/><circle cx="199.0" cy="339.2" r="0.35"/><circle cx="198.1" cy="330.8" r="0.35"/><circle cx="199.7" cy="335.4" r="0.35"/><circle cx="198.7" cy="339.0" r="0.35"/><circle cx="202.9" cy="330.6" r="0.35"/><circle cx="202.4" cy="320.8" r="0.35"/><circle cx="201.7" cy="331.0" r="0.35"/><circle cx="199.7" cy="331.0" r="0.35"/><circle cx="198.5" cy="325.6" r="0.35"/><circle cx="198.9" cy="340.5" r="0.35"/><circle cx="201.3" cy="331.0" r="0.35"/><circle cx="198.7" cy="329.0" r="0.35"/><circle cx="197.7" cy="343.4" r="0.35"/><circle cx="200.5" cy="333.7" r="0.35"/><circle cx="198.7" cy="327.1" r="0.35"/><circle cx="201.5" cy="337.5" r="0.35"/><circle cx="198.0" cy="338.7" r="0.35"/><circle cx="197.8" cy="336.7" r="0.35"/><circle cx="198.0" cy="330.6" r="0.35"/><circle cx="200.3" cy="335.5" r="0.35"/><circle cx="201.1" cy="328.2" r="0.35"/><circle cx="201.9" cy="340.7" r="0.35"/><circle cx="199.5" cy="335.7" r="0.35"/><circle cx="198.3" cy="332.1" r="0.35"/><circle cx="197.5" cy="333.5" r="0.35"/><circle cx="199.8" cy="340.7" r="0.35"/><circle cx="201.0" cy="337.7" r="0.35"/><circle cx="198.9" cy="331.7" r="0.35"/><circle cx="199.0" cy="334.3" r="0.35"/><circle cx="196.5" cy="337.4" r="0.35"/><circle cx="197.1" cy="330.0" r="0.35"/><circle cx="199.5" cy="330.0" r="0.35"/><circle cx="202.1" cy="332.4" r="0.35"/><circle cx="201.9" cy="339.8" r="0.35"/><circle cx="198.7" cy="335.3" r="0.35"/><circle cx="201.5" cy="331.1" r="0.35"/><circle cx="199.6" cy="329.8" r="0.35"/><circle cx="199.6" cy="331.0" r="0.35"/><circle cx="199.6" cy="338.8" r="0.35"/><circle cx="201.6" cy="333.8" r="0.35"/><circle cx="199.8" cy="337.9" r="0.35"/><circle cx="199.1" cy="326.9" r="0.35"/><circle cx="201.2" cy="327.6" r="0.35"/><circle cx="200.9" cy="327.4" r="0.35"/><circle cx="202.3" cy="327.0" r="0.35"/><circle cx="200.8" cy="341.6" r="0.35"/><circle cx="198.0" cy="341.6" r="0.35"/><circle cx="198.2" cy="322.8" r="0.35"/><circle cx="200.6" cy="337.0" r="0.35"/><circle cx="199.2" cy="318.5" r="0.35"/><circle cx="199.4" cy="331.2" r="0.35"/><circle cx="198.9" cy="331.3" r="0.35"/><circle cx="196.8" cy="329.7" r="0.35"/><circle cx="202.3" cy="341.9" r="0.35"/><circle cx="198.9" cy="328.9" r="0.35"/><circle cx="200.1" cy="339.1" r="0.35"/><circle cx="200.6" cy="326.3" r="0.35"/><circle cx="199.7" cy="333.8" r="0.35"/><circle cx="201.7" cy="339.9" r="0.35"/><circle cx="200.3" cy="340.0" r="0.35"/><circle cx="198.9" cy="341.9" r="0.35"/><circle cx="198.8" cy="335.3" r="0.35"/><circle cx="200.9" cy="327.7" r="0.35"/><circle cx="198.4" cy="322.9" r="0.35"/><circle cx="199.8" cy="332.7" r="0.35"/><circle cx="199.0" cy="335.9" r="0.35"/><circle cx="196.2" cy="332.9" r="0.35"/><circle cx="199.6" cy="331.5" r="0.35"/><circle cx="200.7" cy="343.1" r="0.35"/><circle cx="198.8" cy="327.6" r="0.35"/><circle cx="198.6" cy="333.5" r="0.35"/><circle cx="200.4" cy="328.0" r="0.35"/><circle cx="201.0" cy="327.1" r="0.35"/><circle cx="200.8" cy="335.5" r="0.35"/><circle cx="200.2" cy="345.4" r="0.35"/><circle cx="199.1" cy="332.0" r="0.35"/><circle cx="200.2" cy="338.0" r="0.35"/><circle cx="197.4" cy="334.6" r="0.35"/><circle cx="198.4" cy="336.6" r="0.35"/><circle cx="201.6" cy="333.3" r="0.35"/><circle cx="199.3" cy="334.1" r="0.35"/><circle cx="195.0" cy="337.4" r="0.35"/><circle cx="200.4" cy="333.9" r="0.35"/><circle cx="198.9" cy="328.8" r="0.35"/><circle cx="199.2" cy="340.0" r="0.35"/></g>
<line x1="184.2" y1="352.6" x2="184.2" y2="318.5" stroke="#222" stroke-width="1"/>
<polygon points="184.2,314.5 182.0,319.5 186.39999999999998,319.5" fill="#222"/>
<line x1="183.7" y1="352.6" x2="219" y2="352.6" stroke="#222" stroke-width="1"/>
<polygon points="223,352.6 218,350.40000000000003 218,354.8" fill="#222"/>
<text x="178.6" y="341.5" font-size="9" text-anchor="start" font-weight="normal" fill="#333" textLength="15.7" lengthAdjust="spacingAndGlyphs" transform="rotate(-90 178.6 341.5)">CD73</text>
<text x="194.6" y="363" font-size="8.8" text-anchor="start" font-weight="normal" fill="#333" textLength="16.9" lengthAdjust="spacingAndGlyphs">CD39</text>
<text x="265.8" y="208.3" font-size="11.2" text-anchor="start" font-weight="bold" fill="#111" textLength="6.7" lengthAdjust="spacingAndGlyphs">E</text>
<text x="303.8" y="219.1" font-size="8.6" text-anchor="start" font-weight="normal" fill="#222" textLength="27.0" lengthAdjust="spacingAndGlyphs">Human</text>
<text x="286.5" y="229.2" font-size="8.6" text-anchor="start" font-weight="normal" fill="#222" textLength="61.7" lengthAdjust="spacingAndGlyphs">FoxP3– CD39SP</text>
<line x1="290.6" y1="236" x2="290.6" y2="322" stroke="#222" stroke-width="1"/>
<line x1="287.40000000000003" y1="321.6" x2="290.6" y2="321.6" stroke="#222" stroke-width="0.9"/>
<text x="285.2" y="324.0" font-size="7" text-anchor="end" font-weight="normal" fill="#444" textLength="3.73" lengthAdjust="spacingAndGlyphs">0</text>
<line x1="287.40000000000003" y1="300.6" x2="290.6" y2="300.6" stroke="#222" stroke-width="0.9"/>
<text x="285.2" y="303.0" font-size="7" text-anchor="end" font-weight="normal" fill="#444" textLength="7.45" lengthAdjust="spacingAndGlyphs">10</text>
<line x1="287.40000000000003" y1="279.6" x2="290.6" y2="279.6" stroke="#222" stroke-width="0.9"/>
<text x="285.2" y="282.0" font-size="7" text-anchor="end" font-weight="normal" fill="#444" textLength="7.45" lengthAdjust="spacingAndGlyphs">20</text>
<line x1="287.40000000000003" y1="258.6" x2="290.6" y2="258.6" stroke="#222" stroke-width="0.9"/>
<text x="285.2" y="261.0" font-size="7" text-anchor="end" font-weight="normal" fill="#444" textLength="7.45" lengthAdjust="spacingAndGlyphs">30</text>
<line x1="287.40000000000003" y1="237.60000000000002" x2="290.6" y2="237.60000000000002" stroke="#222" stroke-width="0.9"/>
<text x="285.2" y="240.00000000000003" font-size="7" text-anchor="end" font-weight="normal" fill="#444" textLength="7.45" lengthAdjust="spacingAndGlyphs">40</text>
<line x1="290.1" y1="321.6" x2="343.5" y2="321.6" stroke="#222" stroke-width="1"/>
<text x="272.7" y="304" font-size="8.6" text-anchor="start" font-weight="normal" fill="#333" textLength="52.4" lengthAdjust="spacingAndGlyphs" transform="rotate(-90 272.7 304)">% of CD4+ T cells</text>
<line x1="306.2" y1="321.6" x2="306.2" y2="325" stroke="#222" stroke-width="0.9"/>
<line x1="329.2" y1="321.6" x2="329.2" y2="325" stroke="#222" stroke-width="0.9"/>
<rect x="298.7" y="298.5" width="15" height="23.100000000000023" fill="#ec9c8e"/>
<line x1="306.2" y1="298.5" x2="306.2" y2="290.52000000000004" stroke="#c81e3c" stroke-width="0.9"/>
<line x1="302.3" y1="290.52000000000004" x2="310.1" y2="290.52000000000004" stroke="#c81e3c" stroke-width="0.9"/>
<rect x="322.4" y="313.20000000000005" width="14" height="8.399999999999977" fill="#8d9cc6"/>
<circle cx="305.80" cy="276.87" r="2.2" stroke="#c81e3c" stroke-width="1.0" fill="#fff" fill-opacity="0.0"/>
<circle cx="305.80" cy="294.72" r="2.2" stroke="#c81e3c" stroke-width="1.0" fill="#fff" fill-opacity="0.0"/>
<circle cx="300.40" cy="300.60" r="2.2" stroke="#c81e3c" stroke-width="1.0" fill="#fff" fill-opacity="0.0"/>
<circle cx="305.80" cy="300.60" r="2.2" stroke="#c81e3c" stroke-width="1.0" fill="#fff" fill-opacity="0.0"/>
<circle cx="311.60" cy="300.60" r="2.2" stroke="#c81e3c" stroke-width="1.0" fill="#fff" fill-opacity="0.0"/>
<circle cx="300.40" cy="306.90" r="2.2" stroke="#c81e3c" stroke-width="1.0" fill="#fff" fill-opacity="0.0"/>
<circle cx="311.60" cy="304.80" r="2.2" stroke="#c81e3c" stroke-width="1.0" fill="#fff" fill-opacity="0.0"/>
<circle cx="311.60" cy="310.47" r="2.2" stroke="#c81e3c" stroke-width="1.0" fill="#fff" fill-opacity="0.0"/>
<circle cx="300.40" cy="314.46" r="2.2" stroke="#c81e3c" stroke-width="1.0" fill="#fff" fill-opacity="0.0"/>
<circle cx="305.80" cy="257.55" r="2.2" stroke="#c81e3c" stroke-width="1.0" fill="#fff" fill-opacity="0.0"/>
<rect x="324.90" y="287.90" width="4.4" height="4.4" stroke="#1e4f8c" stroke-width="1.15" fill="#fff"/>
<rect x="326.60" y="292.52" width="4.4" height="4.4" stroke="#1e4f8c" stroke-width="1.15" fill="#1e4f8c"/>
<rect x="326.40" y="303.02" width="4.4" height="4.4" stroke="#1e4f8c" stroke-width="1.15" fill="#fff"/>
<rect x="321.30" y="311.00" width="4.4" height="4.4" stroke="#1e4f8c" stroke-width="1.15" fill="#fff"/>
<rect x="330.80" y="311.00" width="4.4" height="4.4" stroke="#1e4f8c" stroke-width="1.15" fill="#fff"/>
<rect x="324.30" y="311.84" width="4.4" height="4.4" stroke="#1e4f8c" stroke-width="1.15" fill="#1e4f8c"/>
<rect x="327.80" y="311.84" width="4.4" height="4.4" stroke="#1e4f8c" stroke-width="1.15" fill="#1e4f8c"/>
<rect x="332.80" y="313.94" width="4.4" height="4.4" stroke="#1e4f8c" stroke-width="1.15" fill="#fff"/>
<rect x="324.80" y="314.36" width="4.4" height="4.4" stroke="#1e4f8c" stroke-width="1.15" fill="#fff"/>
<rect x="321.80" y="315.83" width="4.4" height="4.4" stroke="#1e4f8c" stroke-width="1.15" fill="#1e4f8c"/>
<rect x="326.80" y="316.88" width="4.4" height="4.4" stroke="#1e4f8c" stroke-width="1.15" fill="#1e4f8c"/>
<rect x="330.80" y="316.88" width="4.4" height="4.4" stroke="#1e4f8c" stroke-width="1.15" fill="#1e4f8c"/>
<rect x="328.80" y="314.15" width="4.4" height="4.4" stroke="#1e4f8c" stroke-width="1.15" fill="#fff"/>
<polyline points="305.8,254.5 305.8,249.1 328.9,249.1 328.9,287" fill="none" stroke="#444" stroke-width="0.9"/>
<text x="317.4" y="250" font-size="7.5" text-anchor="middle" font-weight="normal" fill="#333" letter-spacing="-0.5">**</text>
<text x="298.7" y="334.2" font-size="7.4" text-anchor="start" font-weight="normal" fill="#333" textLength="15.1" lengthAdjust="spacingAndGlyphs">AIHA</text>
<text x="317.6" y="334.2" font-size="7.4" text-anchor="start" font-weight="normal" fill="#333" textLength="22.4" lengthAdjust="spacingAndGlyphs">Healthy</text>
<text x="364.8" y="208.3" font-size="11.2" text-anchor="start" font-weight="bold" fill="#111" textLength="6.0" lengthAdjust="spacingAndGlyphs">F</text>
<text x="403.4" y="219.1" font-size="8.6" text-anchor="start" font-weight="normal" fill="#222" textLength="27.1" lengthAdjust="spacingAndGlyphs">Human</text>
<text x="390.8" y="228.8" font-size="8.6" text-anchor="start" font-weight="normal" fill="#222" textLength="52.3" lengthAdjust="spacingAndGlyphs">FoxP3+ Tregs</text>
<line x1="390.4" y1="235.5" x2="390.4" y2="322" stroke="#222" stroke-width="1"/>
<line x1="387.2" y1="321.6" x2="390.4" y2="321.6" stroke="#222" stroke-width="0.9"/>
<text x="384.4" y="324.0" font-size="7" text-anchor="end" font-weight="normal" fill="#444" textLength="3.73" lengthAdjust="spacingAndGlyphs">0</text>
<line x1="387.2" y1="304.8" x2="390.4" y2="304.8" stroke="#222" stroke-width="0.9"/>
<text x="384.4" y="307.2" font-size="7" text-anchor="end" font-weight="normal" fill="#444" textLength="3.73" lengthAdjust="spacingAndGlyphs">2</text>
<line x1="387.2" y1="288.0" x2="390.4" y2="288.0" stroke="#222" stroke-width="0.9"/>
<text x="384.4" y="290.4" font-size="7" text-anchor="end" font-weight="normal" fill="#444" textLength="3.73" lengthAdjust="spacingAndGlyphs">4</text>
<line x1="387.2" y1="271.20000000000005" x2="390.4" y2="271.20000000000005" stroke="#222" stroke-width="0.9"/>
<text x="384.4" y="273.6" font-size="7" text-anchor="end" font-weight="normal" fill="#444" textLength="3.73" lengthAdjust="spacingAndGlyphs">6</text>
<line x1="387.2" y1="254.40000000000003" x2="390.4" y2="254.40000000000003" stroke="#222" stroke-width="0.9"/>
<text x="384.4" y="256.8" font-size="7" text-anchor="end" font-weight="normal" fill="#444" textLength="3.73" lengthAdjust="spacingAndGlyphs">8</text>
<line x1="387.2" y1="237.60000000000002" x2="390.4" y2="237.60000000000002" stroke="#222" stroke-width="0.9"/>
<text x="384.4" y="240.00000000000003" font-size="7" text-anchor="end" font-weight="normal" fill="#444" textLength="6.2" lengthAdjust="spacingAndGlyphs">10</text>
<line x1="389.9" y1="321.6" x2="443.5" y2="321.6" stroke="#222" stroke-width="1"/>
<text x="372.4" y="304" font-size="8.6" text-anchor="start" font-weight="normal" fill="#333" textLength="52.4" lengthAdjust="spacingAndGlyphs" transform="rotate(-90 372.4 304)">% of CD4+ T cells</text>
<line x1="405.8" y1="321.6" x2="405.8" y2="325" stroke="#222" stroke-width="0.9"/>
<line x1="428.8" y1="321.6" x2="428.8" y2="325" stroke="#222" stroke-width="0.9"/>
<rect x="398.5" y="304.8" width="15" height="16.80000000000001" fill="#ec9c8e"/>
<line x1="405.8" y1="304.8" x2="405.8" y2="296.40000000000003" stroke="#c81e3c" stroke-width="0.9"/>
<rect x="421.4" y="285.48" width="14.8" height="36.120000000000005" fill="#8d9cc6"/>
<circle cx="405.50" cy="269.50" r="2.2" stroke="#c81e3c" stroke-width="1.0" fill="#fff" fill-opacity="0.0"/>
<circle cx="405.40" cy="296.50" r="2.2" stroke="#c81e3c" stroke-width="1.0" fill="#fff" fill-opacity="0.0"/>
<circle cx="402.60" cy="302.20" r="2.2" stroke="#c81e3c" stroke-width="1.0" fill="#fff" fill-opacity="0.0"/>
<circle cx="408.40" cy="302.20" r="2.2" stroke="#c81e3c" stroke-width="1.0" fill="#fff" fill-opacity="0.0"/>
<circle cx="399.70" cy="308.00" r="2.2" stroke="#c81e3c" stroke-width="1.0" fill="#fff" fill-opacity="0.0"/>
<circle cx="404.20" cy="306.80" r="2.2" stroke="#c81e3c" stroke-width="1.0" fill="#fff" fill-opacity="0.0"/>
<circle cx="411.10" cy="309.10" r="2.2" stroke="#c81e3c" stroke-width="1.0" fill="#fff" fill-opacity="0.0"/>
<circle cx="405.80" cy="310.20" r="2.2" stroke="#c81e3c" stroke-width="1.0" fill="#fff" fill-opacity="0.0"/>
<circle cx="411.10" cy="314.10" r="2.2" stroke="#c81e3c" stroke-width="1.0" fill="#fff" fill-opacity="0.0"/>
<circle cx="399.70" cy="317.10" r="2.2" stroke="#c81e3c" stroke-width="1.0" fill="#fff" fill-opacity="0.0"/>
<rect x="426.30" y="259.60" width="4.4" height="4.4" stroke="#1e4f8c" stroke-width="1.15" fill="#1e4f8c"/>
<rect x="426.30" y="268.50" width="4.4" height="4.4" stroke="#1e4f8c" stroke-width="1.15" fill="#1e4f8c"/>
<rect x="420.80" y="277.20" width="4.4" height="4.4" stroke="#1e4f8c" stroke-width="1.15" fill="#1e4f8c"/>
<rect x="424.80" y="277.20" width="4.4" height="4.4" stroke="#1e4f8c" stroke-width="1.15" fill="#1e4f8c"/>
<rect x="432.20" y="279.50" width="4.4" height="4.4" stroke="#1e4f8c" stroke-width="1.15" fill="#fff"/>
<rect x="420.80" y="282.80" width="4.4" height="4.4" stroke="#1e4f8c" stroke-width="1.15" fill="#1e4f8c"/>
<rect x="426.70" y="281.80" width="4.4" height="4.4" stroke="#1e4f8c" stroke-width="1.15" fill="#fff"/>
<rect x="429.90" y="282.80" width="4.4" height="4.4" stroke="#1e4f8c" stroke-width="1.15" fill="#1e4f8c"/>
<rect x="423.80" y="286.30" width="4.4" height="4.4" stroke="#1e4f8c" stroke-width="1.15" fill="#1e4f8c"/>
<rect x="432.40" y="284.10" width="4.4" height="4.4" stroke="#1e4f8c" stroke-width="1.15" fill="#1e4f8c"/>
<rect x="420.80" y="293.20" width="4.4" height="4.4" stroke="#1e4f8c" stroke-width="1.15" fill="#1e4f8c"/>
<rect x="428.30" y="295.50" width="4.4" height="4.4" stroke="#1e4f8c" stroke-width="1.15" fill="#1e4f8c"/>
<rect x="432.80" y="295.50" width="4.4" height="4.4" stroke="#1e4f8c" stroke-width="1.15" fill="#1e4f8c"/>
<rect x="420.80" y="298.90" width="4.4" height="4.4" stroke="#1e4f8c" stroke-width="1.15" fill="#1e4f8c"/>
<polyline points="405.2,266.6 405.2,253.2 428.5,253.2 428.5,258.5" fill="none" stroke="#444" stroke-width="0.9"/>
<text x="416.5" y="253.8" font-size="7.5" text-anchor="middle" font-weight="normal" fill="#333" letter-spacing="-0.5">**</text>
<text x="398.5" y="334.2" font-size="7.4" text-anchor="start" font-weight="normal" fill="#333" textLength="14.9" lengthAdjust="spacingAndGlyphs">AIHA</text>
<text x="418" y="334.2" font-size="7.4" text-anchor="start" font-weight="normal" fill="#333" textLength="21.6" lengthAdjust="spacingAndGlyphs">Healthy</text>
</svg>
</body></html>
